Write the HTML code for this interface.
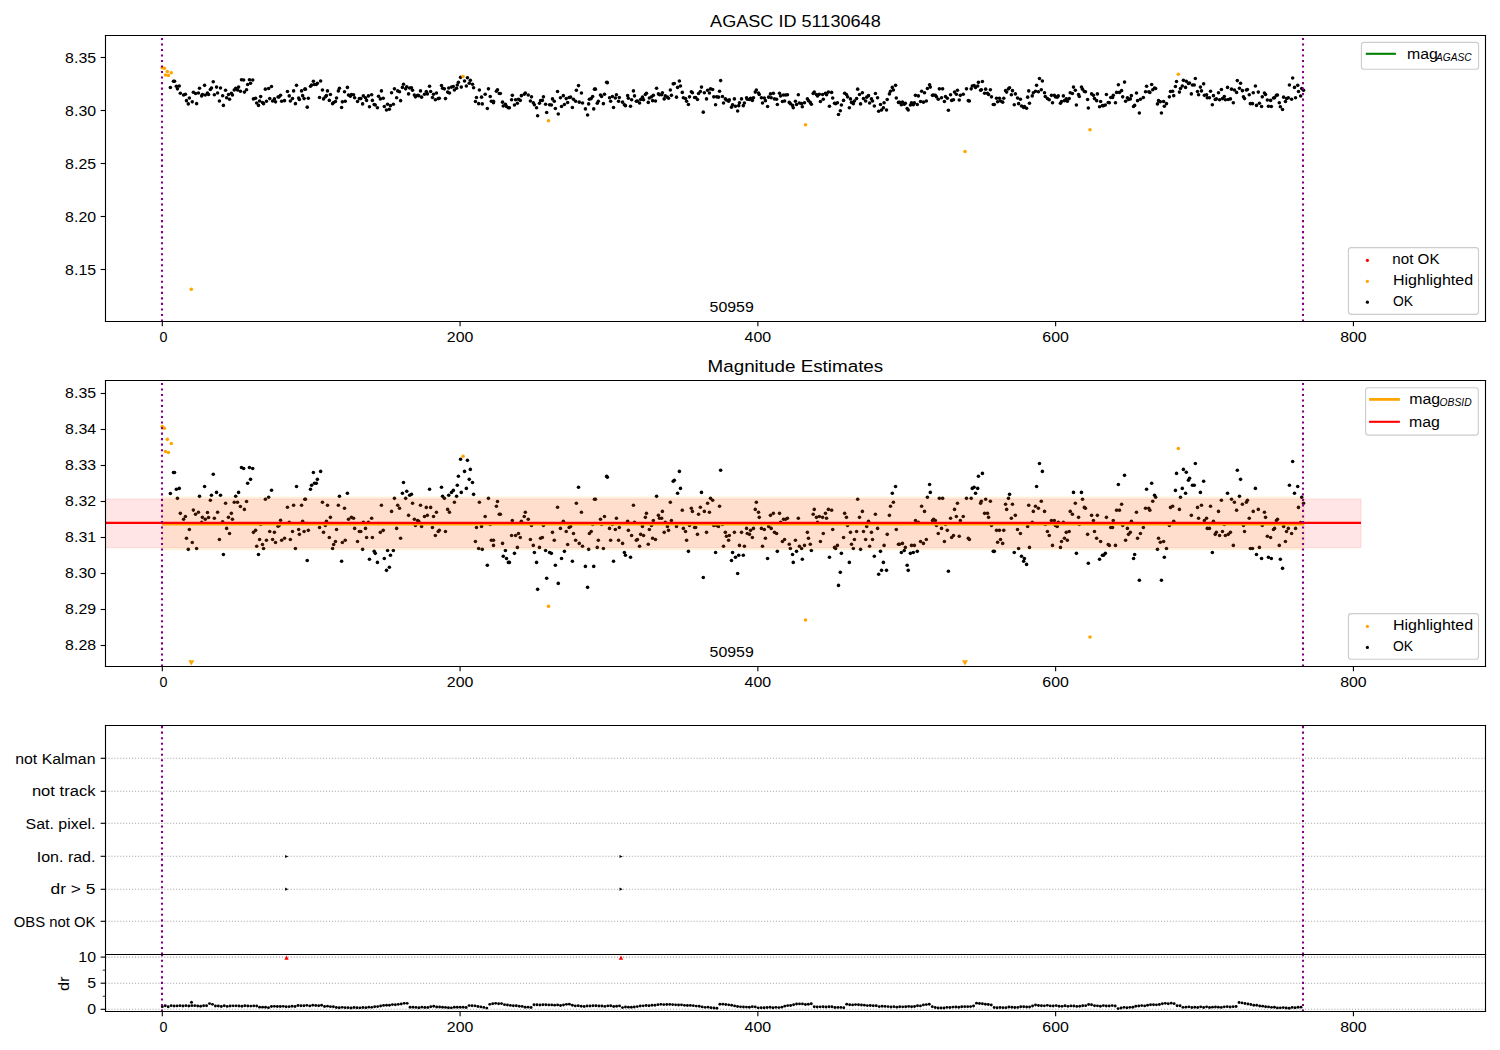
<!DOCTYPE html>
<html><head><meta charset="utf-8"><title>AGASC ID 51130648</title>
<style>html,body{margin:0;padding:0;background:#fff;overflow:hidden}svg{display:block}text{font-family:"Liberation Sans",sans-serif;fill:#000}</style>
</head><body>
<svg width="1500" height="1050" viewBox="0 0 1500 1050">
<defs>
<clipPath id="c1"><rect x="105.5" y="35.5" width="1380.0" height="286.0"/></clipPath>
<clipPath id="c2"><rect x="105.5" y="380.5" width="1380.0" height="286.0"/></clipPath>
<clipPath id="c4"><rect x="105.5" y="954.5" width="1380.0" height="57.0"/></clipPath>
</defs>
<rect x="0" y="0" width="1500" height="1050" fill="#fff"/>
<g clip-path="url(#c1)">
<circle cx="170.38" cy="87.43" r="1.78" fill="#000"/>
<circle cx="173.46" cy="81.25" r="1.78" fill="#000"/>
<circle cx="174.54" cy="81.25" r="1.78" fill="#000"/>
<circle cx="176.35" cy="86.21" r="1.78" fill="#000"/>
<circle cx="179.25" cy="85.94" r="1.78" fill="#000"/>
<circle cx="177.44" cy="88.87" r="1.78" fill="#000"/>
<circle cx="180.33" cy="93.29" r="1.78" fill="#000"/>
<circle cx="183.59" cy="95.05" r="1.78" fill="#000"/>
<circle cx="185.40" cy="94.20" r="1.78" fill="#000"/>
<circle cx="186.48" cy="100.65" r="1.78" fill="#000"/>
<circle cx="188.29" cy="103.90" r="1.78" fill="#000"/>
<circle cx="189.38" cy="98.04" r="1.78" fill="#000"/>
<circle cx="192.27" cy="101.87" r="1.78" fill="#000"/>
<circle cx="193.36" cy="92.33" r="1.78" fill="#000"/>
<circle cx="195.53" cy="93.56" r="1.78" fill="#000"/>
<circle cx="196.62" cy="103.63" r="1.78" fill="#000"/>
<circle cx="198.43" cy="92.97" r="1.78" fill="#000"/>
<circle cx="199.51" cy="88.29" r="1.78" fill="#000"/>
<circle cx="201.68" cy="95.90" r="1.78" fill="#000"/>
<circle cx="202.41" cy="94.47" r="1.78" fill="#000"/>
<circle cx="204.58" cy="85.36" r="1.78" fill="#000"/>
<circle cx="205.30" cy="95.05" r="1.78" fill="#000"/>
<circle cx="207.47" cy="93.03" r="1.78" fill="#000"/>
<circle cx="208.56" cy="94.52" r="1.78" fill="#000"/>
<circle cx="210.37" cy="89.46" r="1.78" fill="#000"/>
<circle cx="211.45" cy="87.97" r="1.78" fill="#000"/>
<circle cx="213.26" cy="81.79" r="1.78" fill="#000"/>
<circle cx="214.35" cy="94.73" r="1.78" fill="#000"/>
<circle cx="216.52" cy="87.11" r="1.78" fill="#000"/>
<circle cx="217.61" cy="92.97" r="1.78" fill="#000"/>
<circle cx="219.41" cy="100.97" r="1.78" fill="#000"/>
<circle cx="220.50" cy="87.97" r="1.78" fill="#000"/>
<circle cx="222.67" cy="95.80" r="1.78" fill="#000"/>
<circle cx="223.40" cy="105.39" r="1.78" fill="#000"/>
<circle cx="225.57" cy="90.31" r="1.78" fill="#000"/>
<circle cx="226.65" cy="97.72" r="1.78" fill="#000"/>
<circle cx="228.46" cy="94.47" r="1.78" fill="#000"/>
<circle cx="229.55" cy="99.21" r="1.78" fill="#000"/>
<circle cx="231.36" cy="93.29" r="1.78" fill="#000"/>
<circle cx="232.44" cy="95.05" r="1.78" fill="#000"/>
<circle cx="234.25" cy="90.04" r="1.78" fill="#000"/>
<circle cx="235.70" cy="88.23" r="1.78" fill="#000"/>
<circle cx="237.51" cy="90.04" r="1.78" fill="#000"/>
<circle cx="238.59" cy="87.11" r="1.78" fill="#000"/>
<circle cx="240.40" cy="91.27" r="1.78" fill="#000"/>
<circle cx="241.49" cy="79.76" r="1.78" fill="#000"/>
<circle cx="243.66" cy="80.08" r="1.78" fill="#000"/>
<circle cx="244.38" cy="92.12" r="1.78" fill="#000"/>
<circle cx="246.56" cy="89.78" r="1.78" fill="#000"/>
<circle cx="247.64" cy="84.45" r="1.78" fill="#000"/>
<circle cx="249.45" cy="79.76" r="1.78" fill="#000"/>
<circle cx="250.54" cy="83.28" r="1.78" fill="#000"/>
<circle cx="252.71" cy="80.08" r="1.78" fill="#000"/>
<circle cx="253.43" cy="98.89" r="1.78" fill="#000"/>
<circle cx="255.60" cy="98.30" r="1.78" fill="#000"/>
<circle cx="256.69" cy="102.99" r="1.78" fill="#000"/>
<circle cx="258.50" cy="105.39" r="1.78" fill="#000"/>
<circle cx="259.58" cy="100.97" r="1.78" fill="#000"/>
<circle cx="260.67" cy="96.60" r="1.78" fill="#000"/>
<circle cx="262.48" cy="102.46" r="1.78" fill="#000"/>
<circle cx="263.56" cy="103.63" r="1.78" fill="#000"/>
<circle cx="265.37" cy="89.14" r="1.78" fill="#000"/>
<circle cx="266.46" cy="101.23" r="1.78" fill="#000"/>
<circle cx="268.63" cy="88.55" r="1.78" fill="#000"/>
<circle cx="269.72" cy="98.62" r="1.78" fill="#000"/>
<circle cx="271.53" cy="86.47" r="1.78" fill="#000"/>
<circle cx="272.61" cy="100.97" r="1.78" fill="#000"/>
<circle cx="274.42" cy="98.89" r="1.78" fill="#000"/>
<circle cx="275.51" cy="101.87" r="1.78" fill="#000"/>
<circle cx="278.04" cy="97.08" r="1.78" fill="#000"/>
<circle cx="279.13" cy="96.86" r="1.78" fill="#000"/>
<circle cx="280.57" cy="95.32" r="1.78" fill="#000"/>
<circle cx="281.66" cy="101.23" r="1.78" fill="#000"/>
<circle cx="284.55" cy="100.65" r="1.78" fill="#000"/>
<circle cx="287.45" cy="91.48" r="1.78" fill="#000"/>
<circle cx="289.26" cy="95.90" r="1.78" fill="#000"/>
<circle cx="290.34" cy="100.97" r="1.78" fill="#000"/>
<circle cx="292.52" cy="98.62" r="1.78" fill="#000"/>
<circle cx="293.60" cy="90.90" r="1.78" fill="#000"/>
<circle cx="295.41" cy="103.63" r="1.78" fill="#000"/>
<circle cx="296.50" cy="85.36" r="1.78" fill="#000"/>
<circle cx="298.67" cy="98.04" r="1.78" fill="#000"/>
<circle cx="299.39" cy="99.47" r="1.78" fill="#000"/>
<circle cx="301.56" cy="90.90" r="1.78" fill="#000"/>
<circle cx="302.65" cy="95.64" r="1.78" fill="#000"/>
<circle cx="304.10" cy="98.62" r="1.78" fill="#000"/>
<circle cx="304.82" cy="89.14" r="1.78" fill="#000"/>
<circle cx="305.43" cy="89.14" r="1.78" fill="#000"/>
<circle cx="307.24" cy="107.15" r="1.78" fill="#000"/>
<circle cx="308.32" cy="98.30" r="1.78" fill="#000"/>
<circle cx="310.49" cy="86.21" r="1.78" fill="#000"/>
<circle cx="311.58" cy="85.04" r="1.78" fill="#000"/>
<circle cx="313.39" cy="81.25" r="1.78" fill="#000"/>
<circle cx="314.48" cy="84.45" r="1.78" fill="#000"/>
<circle cx="316.28" cy="84.45" r="1.78" fill="#000"/>
<circle cx="317.37" cy="83.28" r="1.78" fill="#000"/>
<circle cx="319.54" cy="97.45" r="1.78" fill="#000"/>
<circle cx="320.63" cy="80.93" r="1.78" fill="#000"/>
<circle cx="322.44" cy="90.04" r="1.78" fill="#000"/>
<circle cx="323.52" cy="98.89" r="1.78" fill="#000"/>
<circle cx="325.33" cy="96.86" r="1.78" fill="#000"/>
<circle cx="326.42" cy="95.64" r="1.78" fill="#000"/>
<circle cx="327.50" cy="90.90" r="1.78" fill="#000"/>
<circle cx="329.31" cy="100.38" r="1.78" fill="#000"/>
<circle cx="330.40" cy="94.47" r="1.78" fill="#000"/>
<circle cx="332.57" cy="103.63" r="1.78" fill="#000"/>
<circle cx="333.66" cy="102.46" r="1.78" fill="#000"/>
<circle cx="335.46" cy="101.55" r="1.78" fill="#000"/>
<circle cx="336.55" cy="98.04" r="1.78" fill="#000"/>
<circle cx="338.36" cy="90.90" r="1.78" fill="#000"/>
<circle cx="339.45" cy="88.29" r="1.78" fill="#000"/>
<circle cx="341.62" cy="107.41" r="1.78" fill="#000"/>
<circle cx="342.34" cy="101.87" r="1.78" fill="#000"/>
<circle cx="344.51" cy="91.80" r="1.78" fill="#000"/>
<circle cx="345.24" cy="101.23" r="1.78" fill="#000"/>
<circle cx="347.41" cy="87.38" r="1.78" fill="#000"/>
<circle cx="348.49" cy="95.05" r="1.78" fill="#000"/>
<circle cx="350.30" cy="96.28" r="1.78" fill="#000"/>
<circle cx="351.39" cy="94.47" r="1.78" fill="#000"/>
<circle cx="353.56" cy="94.73" r="1.78" fill="#000"/>
<circle cx="354.64" cy="97.72" r="1.78" fill="#000"/>
<circle cx="357.54" cy="101.55" r="1.78" fill="#000"/>
<circle cx="359.35" cy="98.62" r="1.78" fill="#000"/>
<circle cx="360.80" cy="98.62" r="1.78" fill="#000"/>
<circle cx="362.61" cy="103.90" r="1.78" fill="#000"/>
<circle cx="363.33" cy="95.90" r="1.78" fill="#000"/>
<circle cx="365.50" cy="97.72" r="1.78" fill="#000"/>
<circle cx="366.59" cy="100.38" r="1.78" fill="#000"/>
<circle cx="368.40" cy="95.90" r="1.78" fill="#000"/>
<circle cx="369.48" cy="106.83" r="1.78" fill="#000"/>
<circle cx="371.65" cy="94.73" r="1.78" fill="#000"/>
<circle cx="372.38" cy="100.38" r="1.78" fill="#000"/>
<circle cx="374.19" cy="104.48" r="1.78" fill="#000"/>
<circle cx="375.27" cy="105.07" r="1.78" fill="#000"/>
<circle cx="377.44" cy="107.73" r="1.78" fill="#000"/>
<circle cx="378.53" cy="96.28" r="1.78" fill="#000"/>
<circle cx="380.34" cy="98.89" r="1.78" fill="#000"/>
<circle cx="381.42" cy="90.90" r="1.78" fill="#000"/>
<circle cx="383.23" cy="98.30" r="1.78" fill="#000"/>
<circle cx="384.32" cy="106.56" r="1.78" fill="#000"/>
<circle cx="386.49" cy="110.08" r="1.78" fill="#000"/>
<circle cx="387.58" cy="104.22" r="1.78" fill="#000"/>
<circle cx="389.38" cy="109.17" r="1.78" fill="#000"/>
<circle cx="390.47" cy="105.65" r="1.78" fill="#000"/>
<circle cx="391.56" cy="92.71" r="1.78" fill="#000"/>
<circle cx="393.37" cy="104.22" r="1.78" fill="#000"/>
<circle cx="394.45" cy="88.87" r="1.78" fill="#000"/>
<circle cx="396.62" cy="97.72" r="1.78" fill="#000"/>
<circle cx="397.71" cy="90.90" r="1.78" fill="#000"/>
<circle cx="399.52" cy="91.80" r="1.78" fill="#000"/>
<circle cx="400.60" cy="100.65" r="1.78" fill="#000"/>
<circle cx="402.41" cy="87.38" r="1.78" fill="#000"/>
<circle cx="403.50" cy="84.18" r="1.78" fill="#000"/>
<circle cx="405.67" cy="88.87" r="1.78" fill="#000"/>
<circle cx="406.76" cy="86.79" r="1.78" fill="#000"/>
<circle cx="408.56" cy="93.88" r="1.78" fill="#000"/>
<circle cx="409.65" cy="87.97" r="1.78" fill="#000"/>
<circle cx="411.46" cy="87.70" r="1.78" fill="#000"/>
<circle cx="412.55" cy="90.31" r="1.78" fill="#000"/>
<circle cx="414.35" cy="95.05" r="1.78" fill="#000"/>
<circle cx="415.44" cy="96.86" r="1.78" fill="#000"/>
<circle cx="417.61" cy="95.37" r="1.78" fill="#000"/>
<circle cx="418.70" cy="95.64" r="1.78" fill="#000"/>
<circle cx="420.51" cy="90.90" r="1.78" fill="#000"/>
<circle cx="421.59" cy="97.13" r="1.78" fill="#000"/>
<circle cx="424.49" cy="94.20" r="1.78" fill="#000"/>
<circle cx="426.30" cy="91.54" r="1.78" fill="#000"/>
<circle cx="427.38" cy="93.88" r="1.78" fill="#000"/>
<circle cx="429.55" cy="86.21" r="1.78" fill="#000"/>
<circle cx="430.64" cy="91.54" r="1.78" fill="#000"/>
<circle cx="432.45" cy="97.45" r="1.78" fill="#000"/>
<circle cx="433.53" cy="94.20" r="1.78" fill="#000"/>
<circle cx="435.34" cy="99.79" r="1.78" fill="#000"/>
<circle cx="436.43" cy="92.97" r="1.78" fill="#000"/>
<circle cx="438.24" cy="98.62" r="1.78" fill="#000"/>
<circle cx="439.32" cy="98.30" r="1.78" fill="#000"/>
<circle cx="441.50" cy="85.62" r="1.78" fill="#000"/>
<circle cx="442.58" cy="88.29" r="1.78" fill="#000"/>
<circle cx="444.39" cy="88.87" r="1.78" fill="#000"/>
<circle cx="445.48" cy="98.62" r="1.78" fill="#000"/>
<circle cx="447.65" cy="92.12" r="1.78" fill="#000"/>
<circle cx="448.73" cy="87.97" r="1.78" fill="#000"/>
<circle cx="449.46" cy="92.97" r="1.78" fill="#000"/>
<circle cx="451.51" cy="87.11" r="1.78" fill="#000"/>
<circle cx="453.32" cy="86.53" r="1.78" fill="#000"/>
<circle cx="454.41" cy="90.04" r="1.78" fill="#000"/>
<circle cx="456.58" cy="88.29" r="1.78" fill="#000"/>
<circle cx="457.30" cy="85.04" r="1.78" fill="#000"/>
<circle cx="458.39" cy="82.37" r="1.78" fill="#000"/>
<circle cx="460.56" cy="77.36" r="1.78" fill="#000"/>
<circle cx="461.28" cy="87.11" r="1.78" fill="#000"/>
<circle cx="464.54" cy="80.93" r="1.78" fill="#000"/>
<circle cx="466.35" cy="85.94" r="1.78" fill="#000"/>
<circle cx="467.44" cy="77.68" r="1.78" fill="#000"/>
<circle cx="469.25" cy="83.28" r="1.78" fill="#000"/>
<circle cx="470.33" cy="80.35" r="1.78" fill="#000"/>
<circle cx="472.50" cy="84.18" r="1.78" fill="#000"/>
<circle cx="473.59" cy="87.70" r="1.78" fill="#000"/>
<circle cx="475.40" cy="101.55" r="1.78" fill="#000"/>
<circle cx="476.48" cy="97.45" r="1.78" fill="#000"/>
<circle cx="478.66" cy="103.63" r="1.78" fill="#000"/>
<circle cx="479.38" cy="90.04" r="1.78" fill="#000"/>
<circle cx="481.55" cy="97.13" r="1.78" fill="#000"/>
<circle cx="482.27" cy="103.90" r="1.78" fill="#000"/>
<circle cx="485.17" cy="94.20" r="1.78" fill="#000"/>
<circle cx="487.34" cy="108.58" r="1.78" fill="#000"/>
<circle cx="488.43" cy="88.87" r="1.78" fill="#000"/>
<circle cx="490.24" cy="96.54" r="1.78" fill="#000"/>
<circle cx="491.32" cy="101.23" r="1.78" fill="#000"/>
<circle cx="493.49" cy="101.23" r="1.78" fill="#000"/>
<circle cx="493.49" cy="102.72" r="1.78" fill="#000"/>
<circle cx="496.39" cy="91.22" r="1.78" fill="#000"/>
<circle cx="497.47" cy="89.78" r="1.78" fill="#000"/>
<circle cx="499.28" cy="93.56" r="1.78" fill="#000"/>
<circle cx="500.37" cy="93.56" r="1.78" fill="#000"/>
<circle cx="502.54" cy="102.14" r="1.78" fill="#000"/>
<circle cx="503.26" cy="105.92" r="1.78" fill="#000"/>
<circle cx="505.43" cy="104.22" r="1.78" fill="#000"/>
<circle cx="506.52" cy="106.56" r="1.78" fill="#000"/>
<circle cx="508.33" cy="107.73" r="1.78" fill="#000"/>
<circle cx="509.41" cy="107.73" r="1.78" fill="#000"/>
<circle cx="511.59" cy="99.79" r="1.78" fill="#000"/>
<circle cx="512.31" cy="95.37" r="1.78" fill="#000"/>
<circle cx="514.48" cy="105.07" r="1.78" fill="#000"/>
<circle cx="515.57" cy="99.79" r="1.78" fill="#000"/>
<circle cx="517.38" cy="103.31" r="1.78" fill="#000"/>
<circle cx="518.46" cy="99.21" r="1.78" fill="#000"/>
<circle cx="520.27" cy="100.38" r="1.78" fill="#000"/>
<circle cx="521.36" cy="95.64" r="1.78" fill="#000"/>
<circle cx="524.25" cy="94.20" r="1.78" fill="#000"/>
<circle cx="525.34" cy="92.97" r="1.78" fill="#000"/>
<circle cx="528.23" cy="95.05" r="1.78" fill="#000"/>
<circle cx="530.40" cy="100.97" r="1.78" fill="#000"/>
<circle cx="531.49" cy="96.86" r="1.78" fill="#000"/>
<circle cx="533.30" cy="102.72" r="1.78" fill="#000"/>
<circle cx="534.38" cy="104.80" r="1.78" fill="#000"/>
<circle cx="536.56" cy="107.73" r="1.78" fill="#000"/>
<circle cx="537.64" cy="115.67" r="1.78" fill="#000"/>
<circle cx="539.45" cy="103.31" r="1.78" fill="#000"/>
<circle cx="540.54" cy="100.65" r="1.78" fill="#000"/>
<circle cx="542.35" cy="100.38" r="1.78" fill="#000"/>
<circle cx="543.43" cy="96.86" r="1.78" fill="#000"/>
<circle cx="545.60" cy="104.22" r="1.78" fill="#000"/>
<circle cx="546.69" cy="112.42" r="1.78" fill="#000"/>
<circle cx="549.58" cy="104.80" r="1.78" fill="#000"/>
<circle cx="551.39" cy="105.07" r="1.78" fill="#000"/>
<circle cx="552.48" cy="98.89" r="1.78" fill="#000"/>
<circle cx="554.29" cy="101.23" r="1.78" fill="#000"/>
<circle cx="555.37" cy="108.58" r="1.78" fill="#000"/>
<circle cx="557.55" cy="91.48" r="1.78" fill="#000"/>
<circle cx="558.27" cy="113.91" r="1.78" fill="#000"/>
<circle cx="560.44" cy="97.72" r="1.78" fill="#000"/>
<circle cx="561.53" cy="106.56" r="1.78" fill="#000"/>
<circle cx="563.34" cy="95.64" r="1.78" fill="#000"/>
<circle cx="564.42" cy="104.48" r="1.78" fill="#000"/>
<circle cx="566.23" cy="98.62" r="1.78" fill="#000"/>
<circle cx="567.68" cy="102.46" r="1.78" fill="#000"/>
<circle cx="569.13" cy="97.45" r="1.78" fill="#000"/>
<circle cx="570.57" cy="97.13" r="1.78" fill="#000"/>
<circle cx="572.38" cy="107.41" r="1.78" fill="#000"/>
<circle cx="573.47" cy="99.21" r="1.78" fill="#000"/>
<circle cx="575.64" cy="101.23" r="1.78" fill="#000"/>
<circle cx="576.36" cy="90.31" r="1.78" fill="#000"/>
<circle cx="578.53" cy="85.62" r="1.78" fill="#000"/>
<circle cx="579.26" cy="102.14" r="1.78" fill="#000"/>
<circle cx="581.43" cy="92.97" r="1.78" fill="#000"/>
<circle cx="582.52" cy="102.99" r="1.78" fill="#000"/>
<circle cx="585.41" cy="108.90" r="1.78" fill="#000"/>
<circle cx="587.58" cy="115.08" r="1.78" fill="#000"/>
<circle cx="588.67" cy="103.90" r="1.78" fill="#000"/>
<circle cx="589.39" cy="99.21" r="1.78" fill="#000"/>
<circle cx="591.20" cy="98.62" r="1.78" fill="#000"/>
<circle cx="592.65" cy="96.54" r="1.78" fill="#000"/>
<circle cx="593.73" cy="108.90" r="1.78" fill="#000"/>
<circle cx="594.46" cy="89.14" r="1.78" fill="#000"/>
<circle cx="595.43" cy="89.14" r="1.78" fill="#000"/>
<circle cx="597.24" cy="103.31" r="1.78" fill="#000"/>
<circle cx="598.32" cy="101.23" r="1.78" fill="#000"/>
<circle cx="600.49" cy="95.05" r="1.78" fill="#000"/>
<circle cx="601.58" cy="96.54" r="1.78" fill="#000"/>
<circle cx="603.39" cy="103.63" r="1.78" fill="#000"/>
<circle cx="604.48" cy="94.20" r="1.78" fill="#000"/>
<circle cx="606.65" cy="82.37" r="1.78" fill="#000"/>
<circle cx="607.37" cy="82.64" r="1.78" fill="#000"/>
<circle cx="609.54" cy="97.72" r="1.78" fill="#000"/>
<circle cx="610.63" cy="101.23" r="1.78" fill="#000"/>
<circle cx="612.44" cy="96.54" r="1.78" fill="#000"/>
<circle cx="613.52" cy="107.41" r="1.78" fill="#000"/>
<circle cx="615.33" cy="98.04" r="1.78" fill="#000"/>
<circle cx="616.42" cy="94.73" r="1.78" fill="#000"/>
<circle cx="618.59" cy="101.23" r="1.78" fill="#000"/>
<circle cx="619.31" cy="97.45" r="1.78" fill="#000"/>
<circle cx="622.57" cy="102.14" r="1.78" fill="#000"/>
<circle cx="624.38" cy="104.80" r="1.78" fill="#000"/>
<circle cx="625.46" cy="105.65" r="1.78" fill="#000"/>
<circle cx="627.64" cy="95.64" r="1.78" fill="#000"/>
<circle cx="628.36" cy="98.30" r="1.78" fill="#000"/>
<circle cx="630.53" cy="106.24" r="1.78" fill="#000"/>
<circle cx="631.62" cy="99.79" r="1.78" fill="#000"/>
<circle cx="633.43" cy="90.90" r="1.78" fill="#000"/>
<circle cx="634.51" cy="95.90" r="1.78" fill="#000"/>
<circle cx="636.32" cy="101.23" r="1.78" fill="#000"/>
<circle cx="637.41" cy="100.97" r="1.78" fill="#000"/>
<circle cx="639.58" cy="102.99" r="1.78" fill="#000"/>
<circle cx="640.66" cy="99.47" r="1.78" fill="#000"/>
<circle cx="642.47" cy="97.13" r="1.78" fill="#000"/>
<circle cx="643.56" cy="99.79" r="1.78" fill="#000"/>
<circle cx="645.37" cy="94.47" r="1.78" fill="#000"/>
<circle cx="646.45" cy="93.29" r="1.78" fill="#000"/>
<circle cx="648.26" cy="102.40" r="1.78" fill="#000"/>
<circle cx="649.35" cy="98.04" r="1.78" fill="#000"/>
<circle cx="651.52" cy="96.86" r="1.78" fill="#000"/>
<circle cx="652.61" cy="100.65" r="1.78" fill="#000"/>
<circle cx="653.33" cy="95.37" r="1.78" fill="#000"/>
<circle cx="655.50" cy="100.97" r="1.78" fill="#000"/>
<circle cx="656.59" cy="88.29" r="1.78" fill="#000"/>
<circle cx="658.40" cy="93.88" r="1.78" fill="#000"/>
<circle cx="659.48" cy="94.73" r="1.78" fill="#000"/>
<circle cx="661.65" cy="94.73" r="1.78" fill="#000"/>
<circle cx="662.38" cy="92.71" r="1.78" fill="#000"/>
<circle cx="664.19" cy="98.89" r="1.78" fill="#000"/>
<circle cx="665.27" cy="95.90" r="1.78" fill="#000"/>
<circle cx="667.44" cy="97.13" r="1.78" fill="#000"/>
<circle cx="668.53" cy="98.30" r="1.78" fill="#000"/>
<circle cx="670.34" cy="90.04" r="1.78" fill="#000"/>
<circle cx="671.42" cy="95.37" r="1.78" fill="#000"/>
<circle cx="673.23" cy="83.86" r="1.78" fill="#000"/>
<circle cx="674.32" cy="83.54" r="1.78" fill="#000"/>
<circle cx="676.49" cy="97.13" r="1.78" fill="#000"/>
<circle cx="677.58" cy="87.38" r="1.78" fill="#000"/>
<circle cx="679.38" cy="80.93" r="1.78" fill="#000"/>
<circle cx="680.47" cy="85.94" r="1.78" fill="#000"/>
<circle cx="682.28" cy="92.39" r="1.78" fill="#000"/>
<circle cx="683.37" cy="97.72" r="1.78" fill="#000"/>
<circle cx="685.54" cy="98.62" r="1.78" fill="#000"/>
<circle cx="686.62" cy="101.23" r="1.78" fill="#000"/>
<circle cx="688.43" cy="104.48" r="1.78" fill="#000"/>
<circle cx="689.52" cy="96.86" r="1.78" fill="#000"/>
<circle cx="691.33" cy="91.80" r="1.78" fill="#000"/>
<circle cx="692.41" cy="92.71" r="1.78" fill="#000"/>
<circle cx="694.58" cy="97.45" r="1.78" fill="#000"/>
<circle cx="695.67" cy="97.45" r="1.78" fill="#000"/>
<circle cx="697.48" cy="99.47" r="1.78" fill="#000"/>
<circle cx="698.56" cy="93.56" r="1.78" fill="#000"/>
<circle cx="700.37" cy="91.48" r="1.78" fill="#000"/>
<circle cx="701.46" cy="87.11" r="1.78" fill="#000"/>
<circle cx="703.27" cy="112.15" r="1.78" fill="#000"/>
<circle cx="704.35" cy="92.71" r="1.78" fill="#000"/>
<circle cx="706.53" cy="98.89" r="1.78" fill="#000"/>
<circle cx="707.61" cy="90.31" r="1.78" fill="#000"/>
<circle cx="709.42" cy="92.97" r="1.78" fill="#000"/>
<circle cx="710.51" cy="88.87" r="1.78" fill="#000"/>
<circle cx="712.68" cy="89.46" r="1.78" fill="#000"/>
<circle cx="713.76" cy="96.86" r="1.78" fill="#000"/>
<circle cx="715.57" cy="104.80" r="1.78" fill="#000"/>
<circle cx="716.66" cy="96.86" r="1.78" fill="#000"/>
<circle cx="718.47" cy="97.13" r="1.78" fill="#000"/>
<circle cx="719.55" cy="91.22" r="1.78" fill="#000"/>
<circle cx="720.64" cy="80.61" r="1.78" fill="#000"/>
<circle cx="722.45" cy="96.54" r="1.78" fill="#000"/>
<circle cx="723.53" cy="102.99" r="1.78" fill="#000"/>
<circle cx="725.34" cy="98.89" r="1.78" fill="#000"/>
<circle cx="726.43" cy="100.06" r="1.78" fill="#000"/>
<circle cx="728.60" cy="101.23" r="1.78" fill="#000"/>
<circle cx="729.32" cy="99.79" r="1.78" fill="#000"/>
<circle cx="731.50" cy="107.15" r="1.78" fill="#000"/>
<circle cx="732.58" cy="104.80" r="1.78" fill="#000"/>
<circle cx="734.39" cy="98.89" r="1.78" fill="#000"/>
<circle cx="735.48" cy="106.24" r="1.78" fill="#000"/>
<circle cx="737.65" cy="110.98" r="1.78" fill="#000"/>
<circle cx="738.73" cy="105.65" r="1.78" fill="#000"/>
<circle cx="739.46" cy="102.72" r="1.78" fill="#000"/>
<circle cx="741.51" cy="98.89" r="1.78" fill="#000"/>
<circle cx="743.32" cy="105.65" r="1.78" fill="#000"/>
<circle cx="744.41" cy="102.99" r="1.78" fill="#000"/>
<circle cx="746.58" cy="97.72" r="1.78" fill="#000"/>
<circle cx="747.30" cy="99.21" r="1.78" fill="#000"/>
<circle cx="749.48" cy="99.47" r="1.78" fill="#000"/>
<circle cx="750.56" cy="98.30" r="1.78" fill="#000"/>
<circle cx="752.37" cy="100.38" r="1.78" fill="#000"/>
<circle cx="753.46" cy="97.72" r="1.78" fill="#000"/>
<circle cx="755.27" cy="92.12" r="1.78" fill="#000"/>
<circle cx="756.35" cy="90.04" r="1.78" fill="#000"/>
<circle cx="758.52" cy="92.97" r="1.78" fill="#000"/>
<circle cx="759.25" cy="94.47" r="1.78" fill="#000"/>
<circle cx="761.42" cy="97.72" r="1.78" fill="#000"/>
<circle cx="762.50" cy="102.99" r="1.78" fill="#000"/>
<circle cx="764.31" cy="98.04" r="1.78" fill="#000"/>
<circle cx="765.40" cy="100.65" r="1.78" fill="#000"/>
<circle cx="767.57" cy="106.56" r="1.78" fill="#000"/>
<circle cx="768.66" cy="97.13" r="1.78" fill="#000"/>
<circle cx="770.46" cy="93.88" r="1.78" fill="#000"/>
<circle cx="771.19" cy="97.72" r="1.78" fill="#000"/>
<circle cx="773.36" cy="93.29" r="1.78" fill="#000"/>
<circle cx="774.45" cy="98.89" r="1.78" fill="#000"/>
<circle cx="776.62" cy="99.21" r="1.78" fill="#000"/>
<circle cx="777.34" cy="104.48" r="1.78" fill="#000"/>
<circle cx="779.51" cy="93.29" r="1.78" fill="#000"/>
<circle cx="780.60" cy="95.90" r="1.78" fill="#000"/>
<circle cx="782.41" cy="101.55" r="1.78" fill="#000"/>
<circle cx="783.49" cy="95.05" r="1.78" fill="#000"/>
<circle cx="784.58" cy="100.97" r="1.78" fill="#000"/>
<circle cx="785.66" cy="95.05" r="1.78" fill="#000"/>
<circle cx="787.47" cy="94.73" r="1.78" fill="#000"/>
<circle cx="789.28" cy="102.40" r="1.78" fill="#000"/>
<circle cx="790.37" cy="103.63" r="1.78" fill="#000"/>
<circle cx="792.54" cy="105.39" r="1.78" fill="#000"/>
<circle cx="793.26" cy="107.73" r="1.78" fill="#000"/>
<circle cx="795.43" cy="101.23" r="1.78" fill="#000"/>
<circle cx="796.52" cy="104.48" r="1.78" fill="#000"/>
<circle cx="798.33" cy="94.73" r="1.78" fill="#000"/>
<circle cx="799.41" cy="102.99" r="1.78" fill="#000"/>
<circle cx="801.59" cy="103.63" r="1.78" fill="#000"/>
<circle cx="802.31" cy="106.83" r="1.78" fill="#000"/>
<circle cx="804.48" cy="102.72" r="1.78" fill="#000"/>
<circle cx="807.38" cy="98.89" r="1.78" fill="#000"/>
<circle cx="808.46" cy="100.65" r="1.78" fill="#000"/>
<circle cx="810.27" cy="102.40" r="1.78" fill="#000"/>
<circle cx="811.36" cy="104.22" r="1.78" fill="#000"/>
<circle cx="813.17" cy="93.56" r="1.78" fill="#000"/>
<circle cx="814.25" cy="92.12" r="1.78" fill="#000"/>
<circle cx="816.42" cy="94.47" r="1.78" fill="#000"/>
<circle cx="817.51" cy="95.90" r="1.78" fill="#000"/>
<circle cx="819.32" cy="94.20" r="1.78" fill="#000"/>
<circle cx="820.40" cy="101.55" r="1.78" fill="#000"/>
<circle cx="822.58" cy="94.47" r="1.78" fill="#000"/>
<circle cx="823.30" cy="99.21" r="1.78" fill="#000"/>
<circle cx="825.47" cy="93.29" r="1.78" fill="#000"/>
<circle cx="826.56" cy="94.73" r="1.78" fill="#000"/>
<circle cx="828.37" cy="92.12" r="1.78" fill="#000"/>
<circle cx="829.45" cy="106.24" r="1.78" fill="#000"/>
<circle cx="831.62" cy="92.39" r="1.78" fill="#000"/>
<circle cx="832.71" cy="98.04" r="1.78" fill="#000"/>
<circle cx="834.52" cy="103.31" r="1.78" fill="#000"/>
<circle cx="835.60" cy="103.63" r="1.78" fill="#000"/>
<circle cx="837.41" cy="102.72" r="1.78" fill="#000"/>
<circle cx="838.50" cy="114.50" r="1.78" fill="#000"/>
<circle cx="840.31" cy="110.66" r="1.78" fill="#000"/>
<circle cx="841.39" cy="105.07" r="1.78" fill="#000"/>
<circle cx="843.56" cy="100.38" r="1.78" fill="#000"/>
<circle cx="844.65" cy="93.29" r="1.78" fill="#000"/>
<circle cx="846.46" cy="94.47" r="1.78" fill="#000"/>
<circle cx="847.55" cy="96.86" r="1.78" fill="#000"/>
<circle cx="849.35" cy="107.73" r="1.78" fill="#000"/>
<circle cx="850.44" cy="98.89" r="1.78" fill="#000"/>
<circle cx="851.53" cy="102.40" r="1.78" fill="#000"/>
<circle cx="853.34" cy="103.63" r="1.78" fill="#000"/>
<circle cx="854.42" cy="100.97" r="1.78" fill="#000"/>
<circle cx="856.59" cy="98.62" r="1.78" fill="#000"/>
<circle cx="857.68" cy="89.14" r="1.78" fill="#000"/>
<circle cx="859.49" cy="94.47" r="1.78" fill="#000"/>
<circle cx="860.57" cy="103.90" r="1.78" fill="#000"/>
<circle cx="862.38" cy="92.71" r="1.78" fill="#000"/>
<circle cx="863.47" cy="98.62" r="1.78" fill="#000"/>
<circle cx="865.64" cy="100.97" r="1.78" fill="#000"/>
<circle cx="866.72" cy="97.13" r="1.78" fill="#000"/>
<circle cx="868.53" cy="95.64" r="1.78" fill="#000"/>
<circle cx="869.62" cy="102.99" r="1.78" fill="#000"/>
<circle cx="871.43" cy="98.89" r="1.78" fill="#000"/>
<circle cx="872.52" cy="100.97" r="1.78" fill="#000"/>
<circle cx="874.32" cy="105.92" r="1.78" fill="#000"/>
<circle cx="875.41" cy="93.56" r="1.78" fill="#000"/>
<circle cx="877.58" cy="97.72" r="1.78" fill="#000"/>
<circle cx="878.67" cy="111.25" r="1.78" fill="#000"/>
<circle cx="880.48" cy="104.48" r="1.78" fill="#000"/>
<circle cx="881.56" cy="110.08" r="1.78" fill="#000"/>
<circle cx="883.37" cy="107.73" r="1.78" fill="#000"/>
<circle cx="884.10" cy="102.72" r="1.78" fill="#000"/>
<circle cx="886.51" cy="110.08" r="1.78" fill="#000"/>
<circle cx="887.24" cy="99.47" r="1.78" fill="#000"/>
<circle cx="889.41" cy="93.88" r="1.78" fill="#000"/>
<circle cx="890.49" cy="91.22" r="1.78" fill="#000"/>
<circle cx="892.30" cy="87.38" r="1.78" fill="#000"/>
<circle cx="893.39" cy="90.04" r="1.78" fill="#000"/>
<circle cx="895.56" cy="85.36" r="1.78" fill="#000"/>
<circle cx="896.28" cy="98.04" r="1.78" fill="#000"/>
<circle cx="898.46" cy="102.40" r="1.78" fill="#000"/>
<circle cx="899.54" cy="102.40" r="1.78" fill="#000"/>
<circle cx="901.35" cy="104.80" r="1.78" fill="#000"/>
<circle cx="902.44" cy="102.14" r="1.78" fill="#000"/>
<circle cx="904.25" cy="104.22" r="1.78" fill="#000"/>
<circle cx="905.33" cy="103.31" r="1.78" fill="#000"/>
<circle cx="907.14" cy="108.58" r="1.78" fill="#000"/>
<circle cx="908.23" cy="110.08" r="1.78" fill="#000"/>
<circle cx="910.40" cy="105.07" r="1.78" fill="#000"/>
<circle cx="911.48" cy="102.72" r="1.78" fill="#000"/>
<circle cx="913.29" cy="104.80" r="1.78" fill="#000"/>
<circle cx="914.38" cy="102.72" r="1.78" fill="#000"/>
<circle cx="915.46" cy="95.37" r="1.78" fill="#000"/>
<circle cx="917.27" cy="104.48" r="1.78" fill="#000"/>
<circle cx="918.36" cy="95.90" r="1.78" fill="#000"/>
<circle cx="920.53" cy="101.55" r="1.78" fill="#000"/>
<circle cx="921.62" cy="91.22" r="1.78" fill="#000"/>
<circle cx="923.43" cy="102.14" r="1.78" fill="#000"/>
<circle cx="924.51" cy="92.71" r="1.78" fill="#000"/>
<circle cx="926.32" cy="100.97" r="1.78" fill="#000"/>
<circle cx="927.41" cy="88.55" r="1.78" fill="#000"/>
<circle cx="929.58" cy="84.77" r="1.78" fill="#000"/>
<circle cx="930.30" cy="87.11" r="1.78" fill="#000"/>
<circle cx="932.47" cy="95.37" r="1.78" fill="#000"/>
<circle cx="933.56" cy="95.05" r="1.78" fill="#000"/>
<circle cx="935.37" cy="95.37" r="1.78" fill="#000"/>
<circle cx="936.45" cy="96.86" r="1.78" fill="#000"/>
<circle cx="938.26" cy="99.21" r="1.78" fill="#000"/>
<circle cx="939.35" cy="88.87" r="1.78" fill="#000"/>
<circle cx="941.52" cy="97.72" r="1.78" fill="#000"/>
<circle cx="942.61" cy="88.87" r="1.78" fill="#000"/>
<circle cx="944.41" cy="101.55" r="1.78" fill="#000"/>
<circle cx="945.50" cy="96.54" r="1.78" fill="#000"/>
<circle cx="947.31" cy="98.30" r="1.78" fill="#000"/>
<circle cx="948.40" cy="110.34" r="1.78" fill="#000"/>
<circle cx="950.57" cy="94.73" r="1.78" fill="#000"/>
<circle cx="951.65" cy="100.38" r="1.78" fill="#000"/>
<circle cx="953.46" cy="99.79" r="1.78" fill="#000"/>
<circle cx="954.55" cy="92.12" r="1.78" fill="#000"/>
<circle cx="956.36" cy="94.20" r="1.78" fill="#000"/>
<circle cx="957.44" cy="90.31" r="1.78" fill="#000"/>
<circle cx="959.25" cy="100.06" r="1.78" fill="#000"/>
<circle cx="960.34" cy="95.37" r="1.78" fill="#000"/>
<circle cx="963.23" cy="94.20" r="1.78" fill="#000"/>
<circle cx="966.49" cy="88.87" r="1.78" fill="#000"/>
<circle cx="968.30" cy="100.65" r="1.78" fill="#000"/>
<circle cx="969.38" cy="100.97" r="1.78" fill="#000"/>
<circle cx="971.19" cy="88.87" r="1.78" fill="#000"/>
<circle cx="972.28" cy="85.94" r="1.78" fill="#000"/>
<circle cx="974.09" cy="85.62" r="1.78" fill="#000"/>
<circle cx="975.54" cy="87.38" r="1.78" fill="#000"/>
<circle cx="977.71" cy="85.94" r="1.78" fill="#000"/>
<circle cx="978.43" cy="82.37" r="1.78" fill="#000"/>
<circle cx="980.60" cy="90.31" r="1.78" fill="#000"/>
<circle cx="981.33" cy="89.72" r="1.78" fill="#000"/>
<circle cx="982.41" cy="81.52" r="1.78" fill="#000"/>
<circle cx="984.58" cy="93.29" r="1.78" fill="#000"/>
<circle cx="985.67" cy="89.14" r="1.78" fill="#000"/>
<circle cx="987.48" cy="93.29" r="1.78" fill="#000"/>
<circle cx="988.56" cy="94.47" r="1.78" fill="#000"/>
<circle cx="990.37" cy="89.72" r="1.78" fill="#000"/>
<circle cx="991.46" cy="96.86" r="1.78" fill="#000"/>
<circle cx="993.27" cy="104.48" r="1.78" fill="#000"/>
<circle cx="994.35" cy="104.48" r="1.78" fill="#000"/>
<circle cx="996.53" cy="98.30" r="1.78" fill="#000"/>
<circle cx="997.61" cy="101.82" r="1.78" fill="#000"/>
<circle cx="999.42" cy="98.30" r="1.78" fill="#000"/>
<circle cx="1000.51" cy="100.97" r="1.78" fill="#000"/>
<circle cx="1002.68" cy="102.14" r="1.78" fill="#000"/>
<circle cx="1003.76" cy="98.30" r="1.78" fill="#000"/>
<circle cx="1005.57" cy="90.63" r="1.78" fill="#000"/>
<circle cx="1006.66" cy="92.12" r="1.78" fill="#000"/>
<circle cx="1008.47" cy="88.87" r="1.78" fill="#000"/>
<circle cx="1009.55" cy="87.70" r="1.78" fill="#000"/>
<circle cx="1011.36" cy="94.73" r="1.78" fill="#000"/>
<circle cx="1012.45" cy="90.63" r="1.78" fill="#000"/>
<circle cx="1014.26" cy="104.80" r="1.78" fill="#000"/>
<circle cx="1015.34" cy="93.88" r="1.78" fill="#000"/>
<circle cx="1017.52" cy="98.04" r="1.78" fill="#000"/>
<circle cx="1018.60" cy="103.63" r="1.78" fill="#000"/>
<circle cx="1020.41" cy="99.21" r="1.78" fill="#000"/>
<circle cx="1021.50" cy="105.92" r="1.78" fill="#000"/>
<circle cx="1023.67" cy="107.41" r="1.78" fill="#000"/>
<circle cx="1024.39" cy="106.56" r="1.78" fill="#000"/>
<circle cx="1026.56" cy="108.32" r="1.78" fill="#000"/>
<circle cx="1027.65" cy="97.13" r="1.78" fill="#000"/>
<circle cx="1028.73" cy="90.90" r="1.78" fill="#000"/>
<circle cx="1029.46" cy="103.31" r="1.78" fill="#000"/>
<circle cx="1032.24" cy="95.90" r="1.78" fill="#000"/>
<circle cx="1033.32" cy="92.71" r="1.78" fill="#000"/>
<circle cx="1035.49" cy="91.22" r="1.78" fill="#000"/>
<circle cx="1036.58" cy="85.36" r="1.78" fill="#000"/>
<circle cx="1038.39" cy="91.80" r="1.78" fill="#000"/>
<circle cx="1039.48" cy="78.59" r="1.78" fill="#000"/>
<circle cx="1041.28" cy="89.72" r="1.78" fill="#000"/>
<circle cx="1042.37" cy="80.93" r="1.78" fill="#000"/>
<circle cx="1044.54" cy="92.71" r="1.78" fill="#000"/>
<circle cx="1045.27" cy="96.54" r="1.78" fill="#000"/>
<circle cx="1047.44" cy="98.62" r="1.78" fill="#000"/>
<circle cx="1049.25" cy="99.79" r="1.78" fill="#000"/>
<circle cx="1051.42" cy="95.37" r="1.78" fill="#000"/>
<circle cx="1052.50" cy="102.72" r="1.78" fill="#000"/>
<circle cx="1054.31" cy="95.37" r="1.78" fill="#000"/>
<circle cx="1055.40" cy="96.86" r="1.78" fill="#000"/>
<circle cx="1057.21" cy="97.13" r="1.78" fill="#000"/>
<circle cx="1058.29" cy="95.90" r="1.78" fill="#000"/>
<circle cx="1060.46" cy="103.31" r="1.78" fill="#000"/>
<circle cx="1061.55" cy="101.55" r="1.78" fill="#000"/>
<circle cx="1063.36" cy="95.90" r="1.78" fill="#000"/>
<circle cx="1064.45" cy="100.65" r="1.78" fill="#000"/>
<circle cx="1066.25" cy="98.89" r="1.78" fill="#000"/>
<circle cx="1067.34" cy="101.23" r="1.78" fill="#000"/>
<circle cx="1069.15" cy="98.62" r="1.78" fill="#000"/>
<circle cx="1070.24" cy="92.71" r="1.78" fill="#000"/>
<circle cx="1072.41" cy="93.56" r="1.78" fill="#000"/>
<circle cx="1073.49" cy="87.11" r="1.78" fill="#000"/>
<circle cx="1075.30" cy="90.31" r="1.78" fill="#000"/>
<circle cx="1076.39" cy="105.07" r="1.78" fill="#000"/>
<circle cx="1078.56" cy="94.47" r="1.78" fill="#000"/>
<circle cx="1079.28" cy="96.54" r="1.78" fill="#000"/>
<circle cx="1081.45" cy="87.11" r="1.78" fill="#000"/>
<circle cx="1082.54" cy="89.14" r="1.78" fill="#000"/>
<circle cx="1084.35" cy="91.54" r="1.78" fill="#000"/>
<circle cx="1085.43" cy="91.80" r="1.78" fill="#000"/>
<circle cx="1087.61" cy="99.47" r="1.78" fill="#000"/>
<circle cx="1088.33" cy="108.00" r="1.78" fill="#000"/>
<circle cx="1091.59" cy="93.88" r="1.78" fill="#000"/>
<circle cx="1093.40" cy="95.37" r="1.78" fill="#000"/>
<circle cx="1094.48" cy="98.62" r="1.78" fill="#000"/>
<circle cx="1096.65" cy="100.65" r="1.78" fill="#000"/>
<circle cx="1097.38" cy="93.88" r="1.78" fill="#000"/>
<circle cx="1099.55" cy="106.83" r="1.78" fill="#000"/>
<circle cx="1100.63" cy="101.55" r="1.78" fill="#000"/>
<circle cx="1102.44" cy="105.65" r="1.78" fill="#000"/>
<circle cx="1103.53" cy="105.65" r="1.78" fill="#000"/>
<circle cx="1105.34" cy="105.07" r="1.78" fill="#000"/>
<circle cx="1106.42" cy="94.47" r="1.78" fill="#000"/>
<circle cx="1108.23" cy="102.46" r="1.78" fill="#000"/>
<circle cx="1109.32" cy="102.72" r="1.78" fill="#000"/>
<circle cx="1110.77" cy="97.45" r="1.78" fill="#000"/>
<circle cx="1112.58" cy="97.45" r="1.78" fill="#000"/>
<circle cx="1113.30" cy="95.37" r="1.78" fill="#000"/>
<circle cx="1115.47" cy="102.72" r="1.78" fill="#000"/>
<circle cx="1116.56" cy="92.39" r="1.78" fill="#000"/>
<circle cx="1118.37" cy="84.77" r="1.78" fill="#000"/>
<circle cx="1119.45" cy="92.39" r="1.78" fill="#000"/>
<circle cx="1121.62" cy="90.63" r="1.78" fill="#000"/>
<circle cx="1122.71" cy="96.86" r="1.78" fill="#000"/>
<circle cx="1124.52" cy="82.11" r="1.78" fill="#000"/>
<circle cx="1125.60" cy="101.23" r="1.78" fill="#000"/>
<circle cx="1127.41" cy="97.72" r="1.78" fill="#000"/>
<circle cx="1128.50" cy="99.47" r="1.78" fill="#000"/>
<circle cx="1130.31" cy="98.89" r="1.78" fill="#000"/>
<circle cx="1131.39" cy="95.64" r="1.78" fill="#000"/>
<circle cx="1133.56" cy="106.56" r="1.78" fill="#000"/>
<circle cx="1134.65" cy="105.39" r="1.78" fill="#000"/>
<circle cx="1136.46" cy="92.97" r="1.78" fill="#000"/>
<circle cx="1137.55" cy="100.65" r="1.78" fill="#000"/>
<circle cx="1139.35" cy="113.01" r="1.78" fill="#000"/>
<circle cx="1140.44" cy="99.21" r="1.78" fill="#000"/>
<circle cx="1143.34" cy="97.45" r="1.78" fill="#000"/>
<circle cx="1145.51" cy="91.80" r="1.78" fill="#000"/>
<circle cx="1146.59" cy="86.21" r="1.78" fill="#000"/>
<circle cx="1148.76" cy="91.80" r="1.78" fill="#000"/>
<circle cx="1149.85" cy="92.39" r="1.78" fill="#000"/>
<circle cx="1151.66" cy="84.45" r="1.78" fill="#000"/>
<circle cx="1152.74" cy="89.72" r="1.78" fill="#000"/>
<circle cx="1154.55" cy="87.97" r="1.78" fill="#000"/>
<circle cx="1155.64" cy="88.55" r="1.78" fill="#000"/>
<circle cx="1157.45" cy="103.90" r="1.78" fill="#000"/>
<circle cx="1158.53" cy="100.65" r="1.78" fill="#000"/>
<circle cx="1160.34" cy="101.82" r="1.78" fill="#000"/>
<circle cx="1161.43" cy="113.01" r="1.78" fill="#000"/>
<circle cx="1163.60" cy="101.55" r="1.78" fill="#000"/>
<circle cx="1164.32" cy="106.24" r="1.78" fill="#000"/>
<circle cx="1166.50" cy="103.63" r="1.78" fill="#000"/>
<circle cx="1169.39" cy="96.86" r="1.78" fill="#000"/>
<circle cx="1170.48" cy="91.54" r="1.78" fill="#000"/>
<circle cx="1172.65" cy="91.22" r="1.78" fill="#000"/>
<circle cx="1173.73" cy="95.64" r="1.78" fill="#000"/>
<circle cx="1175.43" cy="86.53" r="1.78" fill="#000"/>
<circle cx="1176.51" cy="81.52" r="1.78" fill="#000"/>
<circle cx="1179.41" cy="92.12" r="1.78" fill="#000"/>
<circle cx="1180.49" cy="88.55" r="1.78" fill="#000"/>
<circle cx="1182.30" cy="85.94" r="1.78" fill="#000"/>
<circle cx="1183.39" cy="80.35" r="1.78" fill="#000"/>
<circle cx="1185.56" cy="87.38" r="1.78" fill="#000"/>
<circle cx="1186.28" cy="81.20" r="1.78" fill="#000"/>
<circle cx="1188.46" cy="83.54" r="1.78" fill="#000"/>
<circle cx="1189.54" cy="82.96" r="1.78" fill="#000"/>
<circle cx="1191.35" cy="93.88" r="1.78" fill="#000"/>
<circle cx="1192.44" cy="85.04" r="1.78" fill="#000"/>
<circle cx="1194.25" cy="85.04" r="1.78" fill="#000"/>
<circle cx="1195.33" cy="78.59" r="1.78" fill="#000"/>
<circle cx="1197.50" cy="91.54" r="1.78" fill="#000"/>
<circle cx="1198.59" cy="94.73" r="1.78" fill="#000"/>
<circle cx="1200.40" cy="87.11" r="1.78" fill="#000"/>
<circle cx="1201.48" cy="90.90" r="1.78" fill="#000"/>
<circle cx="1203.66" cy="83.86" r="1.78" fill="#000"/>
<circle cx="1204.38" cy="95.37" r="1.78" fill="#000"/>
<circle cx="1206.55" cy="94.73" r="1.78" fill="#000"/>
<circle cx="1207.27" cy="97.72" r="1.78" fill="#000"/>
<circle cx="1209.45" cy="97.72" r="1.78" fill="#000"/>
<circle cx="1210.53" cy="91.22" r="1.78" fill="#000"/>
<circle cx="1212.34" cy="104.80" r="1.78" fill="#000"/>
<circle cx="1213.43" cy="95.64" r="1.78" fill="#000"/>
<circle cx="1215.24" cy="99.47" r="1.78" fill="#000"/>
<circle cx="1216.32" cy="98.89" r="1.78" fill="#000"/>
<circle cx="1218.49" cy="92.71" r="1.78" fill="#000"/>
<circle cx="1219.58" cy="99.79" r="1.78" fill="#000"/>
<circle cx="1221.39" cy="89.46" r="1.78" fill="#000"/>
<circle cx="1222.47" cy="98.62" r="1.78" fill="#000"/>
<circle cx="1224.28" cy="96.54" r="1.78" fill="#000"/>
<circle cx="1225.37" cy="99.79" r="1.78" fill="#000"/>
<circle cx="1227.54" cy="87.38" r="1.78" fill="#000"/>
<circle cx="1228.26" cy="99.47" r="1.78" fill="#000"/>
<circle cx="1230.43" cy="98.89" r="1.78" fill="#000"/>
<circle cx="1231.52" cy="89.14" r="1.78" fill="#000"/>
<circle cx="1233.33" cy="102.72" r="1.78" fill="#000"/>
<circle cx="1234.41" cy="90.04" r="1.78" fill="#000"/>
<circle cx="1236.59" cy="92.39" r="1.78" fill="#000"/>
<circle cx="1237.31" cy="80.61" r="1.78" fill="#000"/>
<circle cx="1239.48" cy="88.29" r="1.78" fill="#000"/>
<circle cx="1240.57" cy="83.28" r="1.78" fill="#000"/>
<circle cx="1242.38" cy="90.63" r="1.78" fill="#000"/>
<circle cx="1243.46" cy="96.86" r="1.78" fill="#000"/>
<circle cx="1244.55" cy="98.62" r="1.78" fill="#000"/>
<circle cx="1246.36" cy="90.04" r="1.78" fill="#000"/>
<circle cx="1247.44" cy="89.46" r="1.78" fill="#000"/>
<circle cx="1249.25" cy="94.73" r="1.78" fill="#000"/>
<circle cx="1250.34" cy="103.63" r="1.78" fill="#000"/>
<circle cx="1252.51" cy="103.63" r="1.78" fill="#000"/>
<circle cx="1253.23" cy="92.71" r="1.78" fill="#000"/>
<circle cx="1255.40" cy="85.94" r="1.78" fill="#000"/>
<circle cx="1256.49" cy="105.39" r="1.78" fill="#000"/>
<circle cx="1258.30" cy="92.12" r="1.78" fill="#000"/>
<circle cx="1259.38" cy="103.31" r="1.78" fill="#000"/>
<circle cx="1261.56" cy="106.56" r="1.78" fill="#000"/>
<circle cx="1262.28" cy="96.86" r="1.78" fill="#000"/>
<circle cx="1264.45" cy="92.97" r="1.78" fill="#000"/>
<circle cx="1265.54" cy="94.47" r="1.78" fill="#000"/>
<circle cx="1267.35" cy="100.06" r="1.78" fill="#000"/>
<circle cx="1268.43" cy="106.24" r="1.78" fill="#000"/>
<circle cx="1270.60" cy="100.38" r="1.78" fill="#000"/>
<circle cx="1271.33" cy="106.56" r="1.78" fill="#000"/>
<circle cx="1273.50" cy="98.04" r="1.78" fill="#000"/>
<circle cx="1274.58" cy="97.72" r="1.78" fill="#000"/>
<circle cx="1276.39" cy="95.37" r="1.78" fill="#000"/>
<circle cx="1277.48" cy="95.05" r="1.78" fill="#000"/>
<circle cx="1279.29" cy="102.72" r="1.78" fill="#000"/>
<circle cx="1280.37" cy="106.83" r="1.78" fill="#000"/>
<circle cx="1282.55" cy="109.49" r="1.78" fill="#000"/>
<circle cx="1283.63" cy="97.13" r="1.78" fill="#000"/>
<circle cx="1285.44" cy="101.55" r="1.78" fill="#000"/>
<circle cx="1286.53" cy="98.62" r="1.78" fill="#000"/>
<circle cx="1288.34" cy="97.72" r="1.78" fill="#000"/>
<circle cx="1289.42" cy="85.04" r="1.78" fill="#000"/>
<circle cx="1291.59" cy="99.21" r="1.78" fill="#000"/>
<circle cx="1292.68" cy="78.00" r="1.78" fill="#000"/>
<circle cx="1294.49" cy="87.38" r="1.78" fill="#000"/>
<circle cx="1295.57" cy="97.72" r="1.78" fill="#000"/>
<circle cx="1297.74" cy="85.36" r="1.78" fill="#000"/>
<circle cx="1298.47" cy="91.54" r="1.78" fill="#000"/>
<circle cx="1300.64" cy="95.96" r="1.78" fill="#000"/>
<circle cx="1301.72" cy="88.55" r="1.78" fill="#000"/>
<circle cx="1303.53" cy="90.31" r="1.78" fill="#000"/>
<circle cx="162.24" cy="67.72" r="1.78" fill="#ffa500"/>
<circle cx="164.41" cy="68.25" r="1.78" fill="#ffa500"/>
<circle cx="167.30" cy="71.50" r="1.78" fill="#ffa500"/>
<circle cx="171.28" cy="72.73" r="1.78" fill="#ffa500"/>
<circle cx="165.49" cy="75.07" r="1.78" fill="#ffa500"/>
<circle cx="168.39" cy="75.39" r="1.78" fill="#ffa500"/>
<circle cx="463.09" cy="76.51" r="1.78" fill="#ffa500"/>
<circle cx="548.50" cy="120.68" r="1.78" fill="#ffa500"/>
<circle cx="1178.32" cy="74.17" r="1.78" fill="#ffa500"/>
<circle cx="805.50" cy="124.69" r="1.78" fill="#ffa500"/>
<circle cx="1090.00" cy="129.70" r="1.78" fill="#ffa500"/>
<circle cx="191.30" cy="289.30" r="1.78" fill="#ffa500"/>
<circle cx="965.00" cy="151.50" r="1.78" fill="#ffa500"/>
</g>
<line x1="162.00" y1="321.50" x2="162.00" y2="35.50" stroke="#800080" stroke-width="2.08" stroke-dasharray="2.08 3.44"/>
<line x1="1303.00" y1="321.50" x2="1303.00" y2="35.50" stroke="#800080" stroke-width="2.08" stroke-dasharray="2.08 3.44"/>
<line x1="104.95" y1="35.50" x2="1486.05" y2="35.50" stroke="#000" stroke-width="1.11"/>
<line x1="104.95" y1="321.50" x2="1486.05" y2="321.50" stroke="#000" stroke-width="1.11"/>
<line x1="105.50" y1="34.95" x2="105.50" y2="322.05" stroke="#000" stroke-width="1.11"/>
<line x1="1485.50" y1="34.95" x2="1485.50" y2="322.05" stroke="#000" stroke-width="1.11"/>
<line x1="162.30" y1="321.50" x2="162.30" y2="326.36" stroke="#000" stroke-width="1.11"/>
<text x="159.53" y="341.90" font-size="13.889" textLength="7.94" lengthAdjust="spacingAndGlyphs">0</text>
<line x1="460.08" y1="321.50" x2="460.08" y2="326.36" stroke="#000" stroke-width="1.11"/>
<text x="446.81" y="341.90" font-size="13.889" textLength="26.53" lengthAdjust="spacingAndGlyphs">200</text>
<line x1="757.86" y1="321.50" x2="757.86" y2="326.36" stroke="#000" stroke-width="1.11"/>
<text x="744.59" y="341.90" font-size="13.889" textLength="26.53" lengthAdjust="spacingAndGlyphs">400</text>
<line x1="1055.64" y1="321.50" x2="1055.64" y2="326.36" stroke="#000" stroke-width="1.11"/>
<text x="1042.37" y="341.90" font-size="13.889" textLength="26.53" lengthAdjust="spacingAndGlyphs">600</text>
<line x1="1353.42" y1="321.50" x2="1353.42" y2="326.36" stroke="#000" stroke-width="1.11"/>
<text x="1340.15" y="341.90" font-size="13.889" textLength="26.53" lengthAdjust="spacingAndGlyphs">800</text>
<line x1="100.64" y1="269.50" x2="105.50" y2="269.50" stroke="#000" stroke-width="1.11"/>
<text x="65.13" y="274.50" font-size="13.889" textLength="30.95" lengthAdjust="spacingAndGlyphs">8.15</text>
<line x1="100.64" y1="216.50" x2="105.50" y2="216.50" stroke="#000" stroke-width="1.11"/>
<text x="65.13" y="221.50" font-size="13.889" textLength="30.95" lengthAdjust="spacingAndGlyphs">8.20</text>
<line x1="100.64" y1="163.50" x2="105.50" y2="163.50" stroke="#000" stroke-width="1.11"/>
<text x="65.13" y="168.50" font-size="13.889" textLength="30.95" lengthAdjust="spacingAndGlyphs">8.25</text>
<line x1="100.64" y1="110.50" x2="105.50" y2="110.50" stroke="#000" stroke-width="1.11"/>
<text x="65.13" y="115.50" font-size="13.889" textLength="30.95" lengthAdjust="spacingAndGlyphs">8.30</text>
<line x1="100.64" y1="57.50" x2="105.50" y2="57.50" stroke="#000" stroke-width="1.11"/>
<text x="65.13" y="62.50" font-size="13.889" textLength="30.95" lengthAdjust="spacingAndGlyphs">8.35</text>
<text x="710.08" y="26.70" font-size="16.667" textLength="170.64" lengthAdjust="spacingAndGlyphs">AGASC ID 51130648</text>
<text x="709.59" y="312.00" font-size="13.889" textLength="44.22" lengthAdjust="spacingAndGlyphs">50959</text>
<rect x="1361.40" y="42.40" width="117.20" height="26.90" rx="2.8" ry="2.8" fill="#fff" fill-opacity="0.8" stroke="#cccccc" stroke-width="1.11"/>
<line x1="1365.80" y1="53.80" x2="1395.90" y2="53.80" stroke="#008000" stroke-width="2.08"/>
<text x="1407.00" y="58.60" font-size="13.889" textLength="30.88" lengthAdjust="spacingAndGlyphs">mag</text>
<text x="1436.00" y="60.80" font-size="10.200" font-style="italic" textLength="35.60" lengthAdjust="spacingAndGlyphs">AGASC</text>
<rect x="1348.40" y="247.60" width="130.10" height="66.80" rx="2.8" ry="2.8" fill="#fff" fill-opacity="0.8" stroke="#cccccc" stroke-width="1.11"/>
<circle cx="1367.40" cy="260.40" r="1.6" fill="#ff0000"/>
<circle cx="1367.40" cy="281.30" r="1.6" fill="#ffa500"/>
<circle cx="1367.40" cy="302.20" r="1.6" fill="#000"/>
<text x="1392.30" y="263.90" font-size="13.889" textLength="47.24" lengthAdjust="spacingAndGlyphs">not OK</text>
<text x="1393.00" y="284.80" font-size="13.889" textLength="80.13" lengthAdjust="spacingAndGlyphs">Highlighted</text>
<text x="1393.00" y="305.70" font-size="13.889" textLength="20.06" lengthAdjust="spacingAndGlyphs">OK</text>
<g clip-path="url(#c2)">
<circle cx="170.38" cy="493.46" r="1.78" fill="#000"/>
<circle cx="173.46" cy="472.47" r="1.78" fill="#000"/>
<circle cx="174.54" cy="472.47" r="1.78" fill="#000"/>
<circle cx="176.35" cy="489.30" r="1.78" fill="#000"/>
<circle cx="179.25" cy="488.40" r="1.78" fill="#000"/>
<circle cx="177.44" cy="498.35" r="1.78" fill="#000"/>
<circle cx="180.33" cy="513.37" r="1.78" fill="#000"/>
<circle cx="183.59" cy="519.34" r="1.78" fill="#000"/>
<circle cx="185.40" cy="516.44" r="1.78" fill="#000"/>
<circle cx="186.48" cy="538.34" r="1.78" fill="#000"/>
<circle cx="188.29" cy="549.37" r="1.78" fill="#000"/>
<circle cx="189.38" cy="529.47" r="1.78" fill="#000"/>
<circle cx="192.27" cy="542.50" r="1.78" fill="#000"/>
<circle cx="193.36" cy="510.11" r="1.78" fill="#000"/>
<circle cx="195.53" cy="514.27" r="1.78" fill="#000"/>
<circle cx="196.62" cy="548.47" r="1.78" fill="#000"/>
<circle cx="198.43" cy="512.28" r="1.78" fill="#000"/>
<circle cx="199.51" cy="496.36" r="1.78" fill="#000"/>
<circle cx="201.68" cy="522.23" r="1.78" fill="#000"/>
<circle cx="202.41" cy="517.35" r="1.78" fill="#000"/>
<circle cx="204.58" cy="486.41" r="1.78" fill="#000"/>
<circle cx="205.30" cy="519.34" r="1.78" fill="#000"/>
<circle cx="207.47" cy="512.46" r="1.78" fill="#000"/>
<circle cx="208.56" cy="517.53" r="1.78" fill="#000"/>
<circle cx="210.37" cy="500.34" r="1.78" fill="#000"/>
<circle cx="211.45" cy="495.27" r="1.78" fill="#000"/>
<circle cx="213.26" cy="474.28" r="1.78" fill="#000"/>
<circle cx="214.35" cy="518.25" r="1.78" fill="#000"/>
<circle cx="216.52" cy="492.38" r="1.78" fill="#000"/>
<circle cx="217.61" cy="512.28" r="1.78" fill="#000"/>
<circle cx="219.41" cy="539.42" r="1.78" fill="#000"/>
<circle cx="220.50" cy="495.27" r="1.78" fill="#000"/>
<circle cx="222.67" cy="521.87" r="1.78" fill="#000"/>
<circle cx="223.40" cy="554.44" r="1.78" fill="#000"/>
<circle cx="225.57" cy="503.23" r="1.78" fill="#000"/>
<circle cx="226.65" cy="528.38" r="1.78" fill="#000"/>
<circle cx="228.46" cy="517.35" r="1.78" fill="#000"/>
<circle cx="229.55" cy="533.45" r="1.78" fill="#000"/>
<circle cx="231.36" cy="513.37" r="1.78" fill="#000"/>
<circle cx="232.44" cy="519.34" r="1.78" fill="#000"/>
<circle cx="234.25" cy="502.33" r="1.78" fill="#000"/>
<circle cx="235.70" cy="496.18" r="1.78" fill="#000"/>
<circle cx="237.51" cy="502.33" r="1.78" fill="#000"/>
<circle cx="238.59" cy="492.38" r="1.78" fill="#000"/>
<circle cx="240.40" cy="506.49" r="1.78" fill="#000"/>
<circle cx="241.49" cy="467.41" r="1.78" fill="#000"/>
<circle cx="243.66" cy="468.49" r="1.78" fill="#000"/>
<circle cx="244.38" cy="509.38" r="1.78" fill="#000"/>
<circle cx="246.56" cy="501.42" r="1.78" fill="#000"/>
<circle cx="247.64" cy="483.33" r="1.78" fill="#000"/>
<circle cx="249.45" cy="467.41" r="1.78" fill="#000"/>
<circle cx="250.54" cy="479.35" r="1.78" fill="#000"/>
<circle cx="252.71" cy="468.49" r="1.78" fill="#000"/>
<circle cx="253.43" cy="532.36" r="1.78" fill="#000"/>
<circle cx="255.60" cy="530.37" r="1.78" fill="#000"/>
<circle cx="256.69" cy="546.30" r="1.78" fill="#000"/>
<circle cx="258.50" cy="554.44" r="1.78" fill="#000"/>
<circle cx="259.58" cy="539.42" r="1.78" fill="#000"/>
<circle cx="260.67" cy="524.58" r="1.78" fill="#000"/>
<circle cx="262.48" cy="544.49" r="1.78" fill="#000"/>
<circle cx="263.56" cy="548.47" r="1.78" fill="#000"/>
<circle cx="265.37" cy="499.25" r="1.78" fill="#000"/>
<circle cx="266.46" cy="540.33" r="1.78" fill="#000"/>
<circle cx="268.63" cy="497.26" r="1.78" fill="#000"/>
<circle cx="269.72" cy="531.46" r="1.78" fill="#000"/>
<circle cx="271.53" cy="490.21" r="1.78" fill="#000"/>
<circle cx="272.61" cy="539.42" r="1.78" fill="#000"/>
<circle cx="274.42" cy="532.36" r="1.78" fill="#000"/>
<circle cx="275.51" cy="542.50" r="1.78" fill="#000"/>
<circle cx="278.04" cy="526.21" r="1.78" fill="#000"/>
<circle cx="279.13" cy="525.49" r="1.78" fill="#000"/>
<circle cx="280.57" cy="520.24" r="1.78" fill="#000"/>
<circle cx="281.66" cy="540.33" r="1.78" fill="#000"/>
<circle cx="284.55" cy="538.34" r="1.78" fill="#000"/>
<circle cx="287.45" cy="507.21" r="1.78" fill="#000"/>
<circle cx="289.26" cy="522.23" r="1.78" fill="#000"/>
<circle cx="290.34" cy="539.42" r="1.78" fill="#000"/>
<circle cx="292.52" cy="531.46" r="1.78" fill="#000"/>
<circle cx="293.60" cy="505.22" r="1.78" fill="#000"/>
<circle cx="295.41" cy="548.47" r="1.78" fill="#000"/>
<circle cx="296.50" cy="486.41" r="1.78" fill="#000"/>
<circle cx="298.67" cy="529.47" r="1.78" fill="#000"/>
<circle cx="299.39" cy="534.35" r="1.78" fill="#000"/>
<circle cx="301.56" cy="505.22" r="1.78" fill="#000"/>
<circle cx="302.65" cy="521.33" r="1.78" fill="#000"/>
<circle cx="304.10" cy="531.46" r="1.78" fill="#000"/>
<circle cx="304.82" cy="499.25" r="1.78" fill="#000"/>
<circle cx="305.43" cy="499.25" r="1.78" fill="#000"/>
<circle cx="307.24" cy="560.41" r="1.78" fill="#000"/>
<circle cx="308.32" cy="530.37" r="1.78" fill="#000"/>
<circle cx="310.49" cy="489.30" r="1.78" fill="#000"/>
<circle cx="311.58" cy="485.32" r="1.78" fill="#000"/>
<circle cx="313.39" cy="472.47" r="1.78" fill="#000"/>
<circle cx="314.48" cy="483.33" r="1.78" fill="#000"/>
<circle cx="316.28" cy="483.33" r="1.78" fill="#000"/>
<circle cx="317.37" cy="479.35" r="1.78" fill="#000"/>
<circle cx="319.54" cy="527.48" r="1.78" fill="#000"/>
<circle cx="320.63" cy="471.39" r="1.78" fill="#000"/>
<circle cx="322.44" cy="502.33" r="1.78" fill="#000"/>
<circle cx="323.52" cy="532.36" r="1.78" fill="#000"/>
<circle cx="325.33" cy="525.49" r="1.78" fill="#000"/>
<circle cx="326.42" cy="521.33" r="1.78" fill="#000"/>
<circle cx="327.50" cy="505.22" r="1.78" fill="#000"/>
<circle cx="329.31" cy="537.43" r="1.78" fill="#000"/>
<circle cx="330.40" cy="517.35" r="1.78" fill="#000"/>
<circle cx="332.57" cy="548.47" r="1.78" fill="#000"/>
<circle cx="333.66" cy="544.49" r="1.78" fill="#000"/>
<circle cx="335.46" cy="541.41" r="1.78" fill="#000"/>
<circle cx="336.55" cy="529.47" r="1.78" fill="#000"/>
<circle cx="338.36" cy="505.22" r="1.78" fill="#000"/>
<circle cx="339.45" cy="496.36" r="1.78" fill="#000"/>
<circle cx="341.62" cy="561.31" r="1.78" fill="#000"/>
<circle cx="342.34" cy="542.50" r="1.78" fill="#000"/>
<circle cx="344.51" cy="508.30" r="1.78" fill="#000"/>
<circle cx="345.24" cy="540.33" r="1.78" fill="#000"/>
<circle cx="347.41" cy="493.28" r="1.78" fill="#000"/>
<circle cx="348.49" cy="519.34" r="1.78" fill="#000"/>
<circle cx="350.30" cy="523.50" r="1.78" fill="#000"/>
<circle cx="351.39" cy="517.35" r="1.78" fill="#000"/>
<circle cx="353.56" cy="518.25" r="1.78" fill="#000"/>
<circle cx="354.64" cy="528.38" r="1.78" fill="#000"/>
<circle cx="357.54" cy="541.41" r="1.78" fill="#000"/>
<circle cx="359.35" cy="531.46" r="1.78" fill="#000"/>
<circle cx="360.80" cy="531.46" r="1.78" fill="#000"/>
<circle cx="362.61" cy="549.37" r="1.78" fill="#000"/>
<circle cx="363.33" cy="522.23" r="1.78" fill="#000"/>
<circle cx="365.50" cy="528.38" r="1.78" fill="#000"/>
<circle cx="366.59" cy="537.43" r="1.78" fill="#000"/>
<circle cx="368.40" cy="522.23" r="1.78" fill="#000"/>
<circle cx="369.48" cy="559.32" r="1.78" fill="#000"/>
<circle cx="371.65" cy="518.25" r="1.78" fill="#000"/>
<circle cx="372.38" cy="537.43" r="1.78" fill="#000"/>
<circle cx="374.19" cy="551.36" r="1.78" fill="#000"/>
<circle cx="375.27" cy="553.35" r="1.78" fill="#000"/>
<circle cx="377.44" cy="562.40" r="1.78" fill="#000"/>
<circle cx="378.53" cy="523.50" r="1.78" fill="#000"/>
<circle cx="380.34" cy="532.36" r="1.78" fill="#000"/>
<circle cx="381.42" cy="505.22" r="1.78" fill="#000"/>
<circle cx="383.23" cy="530.37" r="1.78" fill="#000"/>
<circle cx="384.32" cy="558.42" r="1.78" fill="#000"/>
<circle cx="386.49" cy="570.36" r="1.78" fill="#000"/>
<circle cx="387.58" cy="550.46" r="1.78" fill="#000"/>
<circle cx="389.38" cy="567.29" r="1.78" fill="#000"/>
<circle cx="390.47" cy="555.34" r="1.78" fill="#000"/>
<circle cx="391.56" cy="511.38" r="1.78" fill="#000"/>
<circle cx="393.37" cy="550.46" r="1.78" fill="#000"/>
<circle cx="394.45" cy="498.35" r="1.78" fill="#000"/>
<circle cx="396.62" cy="528.38" r="1.78" fill="#000"/>
<circle cx="397.71" cy="505.22" r="1.78" fill="#000"/>
<circle cx="399.52" cy="508.30" r="1.78" fill="#000"/>
<circle cx="400.60" cy="538.34" r="1.78" fill="#000"/>
<circle cx="402.41" cy="493.28" r="1.78" fill="#000"/>
<circle cx="403.50" cy="482.42" r="1.78" fill="#000"/>
<circle cx="405.67" cy="498.35" r="1.78" fill="#000"/>
<circle cx="406.76" cy="491.29" r="1.78" fill="#000"/>
<circle cx="408.56" cy="515.36" r="1.78" fill="#000"/>
<circle cx="409.65" cy="495.27" r="1.78" fill="#000"/>
<circle cx="411.46" cy="494.37" r="1.78" fill="#000"/>
<circle cx="412.55" cy="503.23" r="1.78" fill="#000"/>
<circle cx="414.35" cy="519.34" r="1.78" fill="#000"/>
<circle cx="415.44" cy="525.49" r="1.78" fill="#000"/>
<circle cx="417.61" cy="520.42" r="1.78" fill="#000"/>
<circle cx="418.70" cy="521.33" r="1.78" fill="#000"/>
<circle cx="420.51" cy="505.22" r="1.78" fill="#000"/>
<circle cx="421.59" cy="526.39" r="1.78" fill="#000"/>
<circle cx="424.49" cy="516.44" r="1.78" fill="#000"/>
<circle cx="426.30" cy="507.39" r="1.78" fill="#000"/>
<circle cx="427.38" cy="515.36" r="1.78" fill="#000"/>
<circle cx="429.55" cy="489.30" r="1.78" fill="#000"/>
<circle cx="430.64" cy="507.39" r="1.78" fill="#000"/>
<circle cx="432.45" cy="527.48" r="1.78" fill="#000"/>
<circle cx="433.53" cy="516.44" r="1.78" fill="#000"/>
<circle cx="435.34" cy="535.44" r="1.78" fill="#000"/>
<circle cx="436.43" cy="512.28" r="1.78" fill="#000"/>
<circle cx="438.24" cy="531.46" r="1.78" fill="#000"/>
<circle cx="439.32" cy="530.37" r="1.78" fill="#000"/>
<circle cx="441.50" cy="487.31" r="1.78" fill="#000"/>
<circle cx="442.58" cy="496.36" r="1.78" fill="#000"/>
<circle cx="444.39" cy="498.35" r="1.78" fill="#000"/>
<circle cx="445.48" cy="531.46" r="1.78" fill="#000"/>
<circle cx="447.65" cy="509.38" r="1.78" fill="#000"/>
<circle cx="448.73" cy="495.27" r="1.78" fill="#000"/>
<circle cx="449.46" cy="512.28" r="1.78" fill="#000"/>
<circle cx="451.51" cy="492.38" r="1.78" fill="#000"/>
<circle cx="453.32" cy="490.39" r="1.78" fill="#000"/>
<circle cx="454.41" cy="502.33" r="1.78" fill="#000"/>
<circle cx="456.58" cy="496.36" r="1.78" fill="#000"/>
<circle cx="457.30" cy="485.32" r="1.78" fill="#000"/>
<circle cx="458.39" cy="476.27" r="1.78" fill="#000"/>
<circle cx="460.56" cy="459.26" r="1.78" fill="#000"/>
<circle cx="461.28" cy="492.38" r="1.78" fill="#000"/>
<circle cx="464.54" cy="471.39" r="1.78" fill="#000"/>
<circle cx="466.35" cy="488.40" r="1.78" fill="#000"/>
<circle cx="467.44" cy="460.35" r="1.78" fill="#000"/>
<circle cx="469.25" cy="479.35" r="1.78" fill="#000"/>
<circle cx="470.33" cy="469.40" r="1.78" fill="#000"/>
<circle cx="472.50" cy="482.42" r="1.78" fill="#000"/>
<circle cx="473.59" cy="494.37" r="1.78" fill="#000"/>
<circle cx="475.40" cy="541.41" r="1.78" fill="#000"/>
<circle cx="476.48" cy="527.48" r="1.78" fill="#000"/>
<circle cx="478.66" cy="548.47" r="1.78" fill="#000"/>
<circle cx="479.38" cy="502.33" r="1.78" fill="#000"/>
<circle cx="481.55" cy="526.39" r="1.78" fill="#000"/>
<circle cx="482.27" cy="549.37" r="1.78" fill="#000"/>
<circle cx="485.17" cy="516.44" r="1.78" fill="#000"/>
<circle cx="487.34" cy="565.30" r="1.78" fill="#000"/>
<circle cx="488.43" cy="498.35" r="1.78" fill="#000"/>
<circle cx="490.24" cy="524.40" r="1.78" fill="#000"/>
<circle cx="491.32" cy="540.33" r="1.78" fill="#000"/>
<circle cx="493.49" cy="540.33" r="1.78" fill="#000"/>
<circle cx="493.49" cy="545.39" r="1.78" fill="#000"/>
<circle cx="496.39" cy="506.31" r="1.78" fill="#000"/>
<circle cx="497.47" cy="501.42" r="1.78" fill="#000"/>
<circle cx="499.28" cy="514.27" r="1.78" fill="#000"/>
<circle cx="500.37" cy="514.27" r="1.78" fill="#000"/>
<circle cx="502.54" cy="543.40" r="1.78" fill="#000"/>
<circle cx="503.26" cy="556.25" r="1.78" fill="#000"/>
<circle cx="505.43" cy="550.46" r="1.78" fill="#000"/>
<circle cx="506.52" cy="558.42" r="1.78" fill="#000"/>
<circle cx="508.33" cy="562.40" r="1.78" fill="#000"/>
<circle cx="509.41" cy="562.40" r="1.78" fill="#000"/>
<circle cx="511.59" cy="535.44" r="1.78" fill="#000"/>
<circle cx="512.31" cy="520.42" r="1.78" fill="#000"/>
<circle cx="514.48" cy="553.35" r="1.78" fill="#000"/>
<circle cx="515.57" cy="535.44" r="1.78" fill="#000"/>
<circle cx="517.38" cy="547.38" r="1.78" fill="#000"/>
<circle cx="518.46" cy="533.45" r="1.78" fill="#000"/>
<circle cx="520.27" cy="537.43" r="1.78" fill="#000"/>
<circle cx="521.36" cy="521.33" r="1.78" fill="#000"/>
<circle cx="524.25" cy="516.44" r="1.78" fill="#000"/>
<circle cx="525.34" cy="512.28" r="1.78" fill="#000"/>
<circle cx="528.23" cy="519.34" r="1.78" fill="#000"/>
<circle cx="530.40" cy="539.42" r="1.78" fill="#000"/>
<circle cx="531.49" cy="525.49" r="1.78" fill="#000"/>
<circle cx="533.30" cy="545.39" r="1.78" fill="#000"/>
<circle cx="534.38" cy="552.45" r="1.78" fill="#000"/>
<circle cx="536.56" cy="562.40" r="1.78" fill="#000"/>
<circle cx="537.64" cy="589.36" r="1.78" fill="#000"/>
<circle cx="539.45" cy="547.38" r="1.78" fill="#000"/>
<circle cx="540.54" cy="538.34" r="1.78" fill="#000"/>
<circle cx="542.35" cy="537.43" r="1.78" fill="#000"/>
<circle cx="543.43" cy="525.49" r="1.78" fill="#000"/>
<circle cx="545.60" cy="550.46" r="1.78" fill="#000"/>
<circle cx="546.69" cy="578.32" r="1.78" fill="#000"/>
<circle cx="549.58" cy="552.45" r="1.78" fill="#000"/>
<circle cx="551.39" cy="553.35" r="1.78" fill="#000"/>
<circle cx="552.48" cy="532.36" r="1.78" fill="#000"/>
<circle cx="554.29" cy="540.33" r="1.78" fill="#000"/>
<circle cx="555.37" cy="565.30" r="1.78" fill="#000"/>
<circle cx="557.55" cy="507.21" r="1.78" fill="#000"/>
<circle cx="558.27" cy="583.39" r="1.78" fill="#000"/>
<circle cx="560.44" cy="528.38" r="1.78" fill="#000"/>
<circle cx="561.53" cy="558.42" r="1.78" fill="#000"/>
<circle cx="563.34" cy="521.33" r="1.78" fill="#000"/>
<circle cx="564.42" cy="551.36" r="1.78" fill="#000"/>
<circle cx="566.23" cy="531.46" r="1.78" fill="#000"/>
<circle cx="567.68" cy="544.49" r="1.78" fill="#000"/>
<circle cx="569.13" cy="527.48" r="1.78" fill="#000"/>
<circle cx="570.57" cy="526.39" r="1.78" fill="#000"/>
<circle cx="572.38" cy="561.31" r="1.78" fill="#000"/>
<circle cx="573.47" cy="533.45" r="1.78" fill="#000"/>
<circle cx="575.64" cy="540.33" r="1.78" fill="#000"/>
<circle cx="576.36" cy="503.23" r="1.78" fill="#000"/>
<circle cx="578.53" cy="487.31" r="1.78" fill="#000"/>
<circle cx="579.26" cy="543.40" r="1.78" fill="#000"/>
<circle cx="581.43" cy="512.28" r="1.78" fill="#000"/>
<circle cx="582.52" cy="546.30" r="1.78" fill="#000"/>
<circle cx="585.41" cy="566.38" r="1.78" fill="#000"/>
<circle cx="587.58" cy="587.37" r="1.78" fill="#000"/>
<circle cx="588.67" cy="549.37" r="1.78" fill="#000"/>
<circle cx="589.39" cy="533.45" r="1.78" fill="#000"/>
<circle cx="591.20" cy="531.46" r="1.78" fill="#000"/>
<circle cx="592.65" cy="524.40" r="1.78" fill="#000"/>
<circle cx="593.73" cy="566.38" r="1.78" fill="#000"/>
<circle cx="594.46" cy="499.25" r="1.78" fill="#000"/>
<circle cx="595.43" cy="499.25" r="1.78" fill="#000"/>
<circle cx="597.24" cy="547.38" r="1.78" fill="#000"/>
<circle cx="598.32" cy="540.33" r="1.78" fill="#000"/>
<circle cx="600.49" cy="519.34" r="1.78" fill="#000"/>
<circle cx="601.58" cy="524.40" r="1.78" fill="#000"/>
<circle cx="603.39" cy="548.47" r="1.78" fill="#000"/>
<circle cx="604.48" cy="516.44" r="1.78" fill="#000"/>
<circle cx="606.65" cy="476.27" r="1.78" fill="#000"/>
<circle cx="607.37" cy="477.18" r="1.78" fill="#000"/>
<circle cx="609.54" cy="528.38" r="1.78" fill="#000"/>
<circle cx="610.63" cy="540.33" r="1.78" fill="#000"/>
<circle cx="612.44" cy="524.40" r="1.78" fill="#000"/>
<circle cx="613.52" cy="561.31" r="1.78" fill="#000"/>
<circle cx="615.33" cy="529.47" r="1.78" fill="#000"/>
<circle cx="616.42" cy="518.25" r="1.78" fill="#000"/>
<circle cx="618.59" cy="540.33" r="1.78" fill="#000"/>
<circle cx="619.31" cy="527.48" r="1.78" fill="#000"/>
<circle cx="622.57" cy="543.40" r="1.78" fill="#000"/>
<circle cx="624.38" cy="552.45" r="1.78" fill="#000"/>
<circle cx="625.46" cy="555.34" r="1.78" fill="#000"/>
<circle cx="627.64" cy="521.33" r="1.78" fill="#000"/>
<circle cx="628.36" cy="530.37" r="1.78" fill="#000"/>
<circle cx="630.53" cy="557.33" r="1.78" fill="#000"/>
<circle cx="631.62" cy="535.44" r="1.78" fill="#000"/>
<circle cx="633.43" cy="505.22" r="1.78" fill="#000"/>
<circle cx="634.51" cy="522.23" r="1.78" fill="#000"/>
<circle cx="636.32" cy="540.33" r="1.78" fill="#000"/>
<circle cx="637.41" cy="539.42" r="1.78" fill="#000"/>
<circle cx="639.58" cy="546.30" r="1.78" fill="#000"/>
<circle cx="640.66" cy="534.35" r="1.78" fill="#000"/>
<circle cx="642.47" cy="526.39" r="1.78" fill="#000"/>
<circle cx="643.56" cy="535.44" r="1.78" fill="#000"/>
<circle cx="645.37" cy="517.35" r="1.78" fill="#000"/>
<circle cx="646.45" cy="513.37" r="1.78" fill="#000"/>
<circle cx="648.26" cy="544.31" r="1.78" fill="#000"/>
<circle cx="649.35" cy="529.47" r="1.78" fill="#000"/>
<circle cx="651.52" cy="525.49" r="1.78" fill="#000"/>
<circle cx="652.61" cy="538.34" r="1.78" fill="#000"/>
<circle cx="653.33" cy="520.42" r="1.78" fill="#000"/>
<circle cx="655.50" cy="539.42" r="1.78" fill="#000"/>
<circle cx="656.59" cy="496.36" r="1.78" fill="#000"/>
<circle cx="658.40" cy="515.36" r="1.78" fill="#000"/>
<circle cx="659.48" cy="518.25" r="1.78" fill="#000"/>
<circle cx="661.65" cy="518.25" r="1.78" fill="#000"/>
<circle cx="662.38" cy="511.38" r="1.78" fill="#000"/>
<circle cx="664.19" cy="532.36" r="1.78" fill="#000"/>
<circle cx="665.27" cy="522.23" r="1.78" fill="#000"/>
<circle cx="667.44" cy="526.39" r="1.78" fill="#000"/>
<circle cx="668.53" cy="530.37" r="1.78" fill="#000"/>
<circle cx="670.34" cy="502.33" r="1.78" fill="#000"/>
<circle cx="671.42" cy="520.42" r="1.78" fill="#000"/>
<circle cx="673.23" cy="481.34" r="1.78" fill="#000"/>
<circle cx="674.32" cy="480.25" r="1.78" fill="#000"/>
<circle cx="676.49" cy="526.39" r="1.78" fill="#000"/>
<circle cx="677.58" cy="493.28" r="1.78" fill="#000"/>
<circle cx="679.38" cy="471.39" r="1.78" fill="#000"/>
<circle cx="680.47" cy="488.40" r="1.78" fill="#000"/>
<circle cx="682.28" cy="510.29" r="1.78" fill="#000"/>
<circle cx="683.37" cy="528.38" r="1.78" fill="#000"/>
<circle cx="685.54" cy="531.46" r="1.78" fill="#000"/>
<circle cx="686.62" cy="540.33" r="1.78" fill="#000"/>
<circle cx="688.43" cy="551.36" r="1.78" fill="#000"/>
<circle cx="689.52" cy="525.49" r="1.78" fill="#000"/>
<circle cx="691.33" cy="508.30" r="1.78" fill="#000"/>
<circle cx="692.41" cy="511.38" r="1.78" fill="#000"/>
<circle cx="694.58" cy="527.48" r="1.78" fill="#000"/>
<circle cx="695.67" cy="527.48" r="1.78" fill="#000"/>
<circle cx="697.48" cy="534.35" r="1.78" fill="#000"/>
<circle cx="698.56" cy="514.27" r="1.78" fill="#000"/>
<circle cx="700.37" cy="507.21" r="1.78" fill="#000"/>
<circle cx="701.46" cy="492.38" r="1.78" fill="#000"/>
<circle cx="703.27" cy="577.42" r="1.78" fill="#000"/>
<circle cx="704.35" cy="511.38" r="1.78" fill="#000"/>
<circle cx="706.53" cy="532.36" r="1.78" fill="#000"/>
<circle cx="707.61" cy="503.23" r="1.78" fill="#000"/>
<circle cx="709.42" cy="512.28" r="1.78" fill="#000"/>
<circle cx="710.51" cy="498.35" r="1.78" fill="#000"/>
<circle cx="712.68" cy="500.34" r="1.78" fill="#000"/>
<circle cx="713.76" cy="525.49" r="1.78" fill="#000"/>
<circle cx="715.57" cy="552.45" r="1.78" fill="#000"/>
<circle cx="716.66" cy="525.49" r="1.78" fill="#000"/>
<circle cx="718.47" cy="526.39" r="1.78" fill="#000"/>
<circle cx="719.55" cy="506.31" r="1.78" fill="#000"/>
<circle cx="720.64" cy="470.30" r="1.78" fill="#000"/>
<circle cx="722.45" cy="524.40" r="1.78" fill="#000"/>
<circle cx="723.53" cy="546.30" r="1.78" fill="#000"/>
<circle cx="725.34" cy="532.36" r="1.78" fill="#000"/>
<circle cx="726.43" cy="536.34" r="1.78" fill="#000"/>
<circle cx="728.60" cy="540.33" r="1.78" fill="#000"/>
<circle cx="729.32" cy="535.44" r="1.78" fill="#000"/>
<circle cx="731.50" cy="560.41" r="1.78" fill="#000"/>
<circle cx="732.58" cy="552.45" r="1.78" fill="#000"/>
<circle cx="734.39" cy="532.36" r="1.78" fill="#000"/>
<circle cx="735.48" cy="557.33" r="1.78" fill="#000"/>
<circle cx="737.65" cy="573.44" r="1.78" fill="#000"/>
<circle cx="738.73" cy="555.34" r="1.78" fill="#000"/>
<circle cx="739.46" cy="545.39" r="1.78" fill="#000"/>
<circle cx="741.51" cy="532.36" r="1.78" fill="#000"/>
<circle cx="743.32" cy="555.34" r="1.78" fill="#000"/>
<circle cx="744.41" cy="546.30" r="1.78" fill="#000"/>
<circle cx="746.58" cy="528.38" r="1.78" fill="#000"/>
<circle cx="747.30" cy="533.45" r="1.78" fill="#000"/>
<circle cx="749.48" cy="534.35" r="1.78" fill="#000"/>
<circle cx="750.56" cy="530.37" r="1.78" fill="#000"/>
<circle cx="752.37" cy="537.43" r="1.78" fill="#000"/>
<circle cx="753.46" cy="528.38" r="1.78" fill="#000"/>
<circle cx="755.27" cy="509.38" r="1.78" fill="#000"/>
<circle cx="756.35" cy="502.33" r="1.78" fill="#000"/>
<circle cx="758.52" cy="512.28" r="1.78" fill="#000"/>
<circle cx="759.25" cy="517.35" r="1.78" fill="#000"/>
<circle cx="761.42" cy="528.38" r="1.78" fill="#000"/>
<circle cx="762.50" cy="546.30" r="1.78" fill="#000"/>
<circle cx="764.31" cy="529.47" r="1.78" fill="#000"/>
<circle cx="765.40" cy="538.34" r="1.78" fill="#000"/>
<circle cx="767.57" cy="558.42" r="1.78" fill="#000"/>
<circle cx="768.66" cy="526.39" r="1.78" fill="#000"/>
<circle cx="770.46" cy="515.36" r="1.78" fill="#000"/>
<circle cx="771.19" cy="528.38" r="1.78" fill="#000"/>
<circle cx="773.36" cy="513.37" r="1.78" fill="#000"/>
<circle cx="774.45" cy="532.36" r="1.78" fill="#000"/>
<circle cx="776.62" cy="533.45" r="1.78" fill="#000"/>
<circle cx="777.34" cy="551.36" r="1.78" fill="#000"/>
<circle cx="779.51" cy="513.37" r="1.78" fill="#000"/>
<circle cx="780.60" cy="522.23" r="1.78" fill="#000"/>
<circle cx="782.41" cy="541.41" r="1.78" fill="#000"/>
<circle cx="783.49" cy="519.34" r="1.78" fill="#000"/>
<circle cx="784.58" cy="539.42" r="1.78" fill="#000"/>
<circle cx="785.66" cy="519.34" r="1.78" fill="#000"/>
<circle cx="787.47" cy="518.25" r="1.78" fill="#000"/>
<circle cx="789.28" cy="544.31" r="1.78" fill="#000"/>
<circle cx="790.37" cy="548.47" r="1.78" fill="#000"/>
<circle cx="792.54" cy="554.44" r="1.78" fill="#000"/>
<circle cx="793.26" cy="562.40" r="1.78" fill="#000"/>
<circle cx="795.43" cy="540.33" r="1.78" fill="#000"/>
<circle cx="796.52" cy="551.36" r="1.78" fill="#000"/>
<circle cx="798.33" cy="518.25" r="1.78" fill="#000"/>
<circle cx="799.41" cy="546.30" r="1.78" fill="#000"/>
<circle cx="801.59" cy="548.47" r="1.78" fill="#000"/>
<circle cx="802.31" cy="559.32" r="1.78" fill="#000"/>
<circle cx="804.48" cy="545.39" r="1.78" fill="#000"/>
<circle cx="807.38" cy="532.36" r="1.78" fill="#000"/>
<circle cx="808.46" cy="538.34" r="1.78" fill="#000"/>
<circle cx="810.27" cy="544.31" r="1.78" fill="#000"/>
<circle cx="811.36" cy="550.46" r="1.78" fill="#000"/>
<circle cx="813.17" cy="514.27" r="1.78" fill="#000"/>
<circle cx="814.25" cy="509.38" r="1.78" fill="#000"/>
<circle cx="816.42" cy="517.35" r="1.78" fill="#000"/>
<circle cx="817.51" cy="522.23" r="1.78" fill="#000"/>
<circle cx="819.32" cy="516.44" r="1.78" fill="#000"/>
<circle cx="820.40" cy="541.41" r="1.78" fill="#000"/>
<circle cx="822.58" cy="517.35" r="1.78" fill="#000"/>
<circle cx="823.30" cy="533.45" r="1.78" fill="#000"/>
<circle cx="825.47" cy="513.37" r="1.78" fill="#000"/>
<circle cx="826.56" cy="518.25" r="1.78" fill="#000"/>
<circle cx="828.37" cy="509.38" r="1.78" fill="#000"/>
<circle cx="829.45" cy="557.33" r="1.78" fill="#000"/>
<circle cx="831.62" cy="510.29" r="1.78" fill="#000"/>
<circle cx="832.71" cy="529.47" r="1.78" fill="#000"/>
<circle cx="834.52" cy="547.38" r="1.78" fill="#000"/>
<circle cx="835.60" cy="548.47" r="1.78" fill="#000"/>
<circle cx="837.41" cy="545.39" r="1.78" fill="#000"/>
<circle cx="838.50" cy="585.38" r="1.78" fill="#000"/>
<circle cx="840.31" cy="572.35" r="1.78" fill="#000"/>
<circle cx="841.39" cy="553.35" r="1.78" fill="#000"/>
<circle cx="843.56" cy="537.43" r="1.78" fill="#000"/>
<circle cx="844.65" cy="513.37" r="1.78" fill="#000"/>
<circle cx="846.46" cy="517.35" r="1.78" fill="#000"/>
<circle cx="847.55" cy="525.49" r="1.78" fill="#000"/>
<circle cx="849.35" cy="562.40" r="1.78" fill="#000"/>
<circle cx="850.44" cy="532.36" r="1.78" fill="#000"/>
<circle cx="851.53" cy="544.31" r="1.78" fill="#000"/>
<circle cx="853.34" cy="548.47" r="1.78" fill="#000"/>
<circle cx="854.42" cy="539.42" r="1.78" fill="#000"/>
<circle cx="856.59" cy="531.46" r="1.78" fill="#000"/>
<circle cx="857.68" cy="499.25" r="1.78" fill="#000"/>
<circle cx="859.49" cy="517.35" r="1.78" fill="#000"/>
<circle cx="860.57" cy="549.37" r="1.78" fill="#000"/>
<circle cx="862.38" cy="511.38" r="1.78" fill="#000"/>
<circle cx="863.47" cy="531.46" r="1.78" fill="#000"/>
<circle cx="865.64" cy="539.42" r="1.78" fill="#000"/>
<circle cx="866.72" cy="526.39" r="1.78" fill="#000"/>
<circle cx="868.53" cy="521.33" r="1.78" fill="#000"/>
<circle cx="869.62" cy="546.30" r="1.78" fill="#000"/>
<circle cx="871.43" cy="532.36" r="1.78" fill="#000"/>
<circle cx="872.52" cy="539.42" r="1.78" fill="#000"/>
<circle cx="874.32" cy="556.25" r="1.78" fill="#000"/>
<circle cx="875.41" cy="514.27" r="1.78" fill="#000"/>
<circle cx="877.58" cy="528.38" r="1.78" fill="#000"/>
<circle cx="878.67" cy="574.34" r="1.78" fill="#000"/>
<circle cx="880.48" cy="551.36" r="1.78" fill="#000"/>
<circle cx="881.56" cy="570.36" r="1.78" fill="#000"/>
<circle cx="883.37" cy="562.40" r="1.78" fill="#000"/>
<circle cx="884.10" cy="545.39" r="1.78" fill="#000"/>
<circle cx="886.51" cy="570.36" r="1.78" fill="#000"/>
<circle cx="887.24" cy="534.35" r="1.78" fill="#000"/>
<circle cx="889.41" cy="515.36" r="1.78" fill="#000"/>
<circle cx="890.49" cy="506.31" r="1.78" fill="#000"/>
<circle cx="892.30" cy="493.28" r="1.78" fill="#000"/>
<circle cx="893.39" cy="502.33" r="1.78" fill="#000"/>
<circle cx="895.56" cy="486.41" r="1.78" fill="#000"/>
<circle cx="896.28" cy="529.47" r="1.78" fill="#000"/>
<circle cx="898.46" cy="544.31" r="1.78" fill="#000"/>
<circle cx="899.54" cy="544.31" r="1.78" fill="#000"/>
<circle cx="901.35" cy="552.45" r="1.78" fill="#000"/>
<circle cx="902.44" cy="543.40" r="1.78" fill="#000"/>
<circle cx="904.25" cy="550.46" r="1.78" fill="#000"/>
<circle cx="905.33" cy="547.38" r="1.78" fill="#000"/>
<circle cx="907.14" cy="565.30" r="1.78" fill="#000"/>
<circle cx="908.23" cy="570.36" r="1.78" fill="#000"/>
<circle cx="910.40" cy="553.35" r="1.78" fill="#000"/>
<circle cx="911.48" cy="545.39" r="1.78" fill="#000"/>
<circle cx="913.29" cy="552.45" r="1.78" fill="#000"/>
<circle cx="914.38" cy="545.39" r="1.78" fill="#000"/>
<circle cx="915.46" cy="520.42" r="1.78" fill="#000"/>
<circle cx="917.27" cy="551.36" r="1.78" fill="#000"/>
<circle cx="918.36" cy="522.23" r="1.78" fill="#000"/>
<circle cx="920.53" cy="541.41" r="1.78" fill="#000"/>
<circle cx="921.62" cy="506.31" r="1.78" fill="#000"/>
<circle cx="923.43" cy="543.40" r="1.78" fill="#000"/>
<circle cx="924.51" cy="511.38" r="1.78" fill="#000"/>
<circle cx="926.32" cy="539.42" r="1.78" fill="#000"/>
<circle cx="927.41" cy="497.26" r="1.78" fill="#000"/>
<circle cx="929.58" cy="484.41" r="1.78" fill="#000"/>
<circle cx="930.30" cy="492.38" r="1.78" fill="#000"/>
<circle cx="932.47" cy="520.42" r="1.78" fill="#000"/>
<circle cx="933.56" cy="519.34" r="1.78" fill="#000"/>
<circle cx="935.37" cy="520.42" r="1.78" fill="#000"/>
<circle cx="936.45" cy="525.49" r="1.78" fill="#000"/>
<circle cx="938.26" cy="533.45" r="1.78" fill="#000"/>
<circle cx="939.35" cy="498.35" r="1.78" fill="#000"/>
<circle cx="941.52" cy="528.38" r="1.78" fill="#000"/>
<circle cx="942.61" cy="498.35" r="1.78" fill="#000"/>
<circle cx="944.41" cy="541.41" r="1.78" fill="#000"/>
<circle cx="945.50" cy="524.40" r="1.78" fill="#000"/>
<circle cx="947.31" cy="530.37" r="1.78" fill="#000"/>
<circle cx="948.40" cy="571.27" r="1.78" fill="#000"/>
<circle cx="950.57" cy="518.25" r="1.78" fill="#000"/>
<circle cx="951.65" cy="537.43" r="1.78" fill="#000"/>
<circle cx="953.46" cy="535.44" r="1.78" fill="#000"/>
<circle cx="954.55" cy="509.38" r="1.78" fill="#000"/>
<circle cx="956.36" cy="516.44" r="1.78" fill="#000"/>
<circle cx="957.44" cy="503.23" r="1.78" fill="#000"/>
<circle cx="959.25" cy="536.34" r="1.78" fill="#000"/>
<circle cx="960.34" cy="520.42" r="1.78" fill="#000"/>
<circle cx="963.23" cy="516.44" r="1.78" fill="#000"/>
<circle cx="966.49" cy="498.35" r="1.78" fill="#000"/>
<circle cx="968.30" cy="538.34" r="1.78" fill="#000"/>
<circle cx="969.38" cy="539.42" r="1.78" fill="#000"/>
<circle cx="971.19" cy="498.35" r="1.78" fill="#000"/>
<circle cx="972.28" cy="488.40" r="1.78" fill="#000"/>
<circle cx="974.09" cy="487.31" r="1.78" fill="#000"/>
<circle cx="975.54" cy="493.28" r="1.78" fill="#000"/>
<circle cx="977.71" cy="488.40" r="1.78" fill="#000"/>
<circle cx="978.43" cy="476.27" r="1.78" fill="#000"/>
<circle cx="980.60" cy="503.23" r="1.78" fill="#000"/>
<circle cx="981.33" cy="501.24" r="1.78" fill="#000"/>
<circle cx="982.41" cy="473.38" r="1.78" fill="#000"/>
<circle cx="984.58" cy="513.37" r="1.78" fill="#000"/>
<circle cx="985.67" cy="499.25" r="1.78" fill="#000"/>
<circle cx="987.48" cy="513.37" r="1.78" fill="#000"/>
<circle cx="988.56" cy="517.35" r="1.78" fill="#000"/>
<circle cx="990.37" cy="501.24" r="1.78" fill="#000"/>
<circle cx="991.46" cy="525.49" r="1.78" fill="#000"/>
<circle cx="993.27" cy="551.36" r="1.78" fill="#000"/>
<circle cx="994.35" cy="551.36" r="1.78" fill="#000"/>
<circle cx="996.53" cy="530.37" r="1.78" fill="#000"/>
<circle cx="997.61" cy="542.32" r="1.78" fill="#000"/>
<circle cx="999.42" cy="530.37" r="1.78" fill="#000"/>
<circle cx="1000.51" cy="539.42" r="1.78" fill="#000"/>
<circle cx="1002.68" cy="543.40" r="1.78" fill="#000"/>
<circle cx="1003.76" cy="530.37" r="1.78" fill="#000"/>
<circle cx="1005.57" cy="504.32" r="1.78" fill="#000"/>
<circle cx="1006.66" cy="509.38" r="1.78" fill="#000"/>
<circle cx="1008.47" cy="498.35" r="1.78" fill="#000"/>
<circle cx="1009.55" cy="494.37" r="1.78" fill="#000"/>
<circle cx="1011.36" cy="518.25" r="1.78" fill="#000"/>
<circle cx="1012.45" cy="504.32" r="1.78" fill="#000"/>
<circle cx="1014.26" cy="552.45" r="1.78" fill="#000"/>
<circle cx="1015.34" cy="515.36" r="1.78" fill="#000"/>
<circle cx="1017.52" cy="529.47" r="1.78" fill="#000"/>
<circle cx="1018.60" cy="548.47" r="1.78" fill="#000"/>
<circle cx="1020.41" cy="533.45" r="1.78" fill="#000"/>
<circle cx="1021.50" cy="556.25" r="1.78" fill="#000"/>
<circle cx="1023.67" cy="561.31" r="1.78" fill="#000"/>
<circle cx="1024.39" cy="558.42" r="1.78" fill="#000"/>
<circle cx="1026.56" cy="564.39" r="1.78" fill="#000"/>
<circle cx="1027.65" cy="526.39" r="1.78" fill="#000"/>
<circle cx="1028.73" cy="505.22" r="1.78" fill="#000"/>
<circle cx="1029.46" cy="547.38" r="1.78" fill="#000"/>
<circle cx="1032.24" cy="522.23" r="1.78" fill="#000"/>
<circle cx="1033.32" cy="511.38" r="1.78" fill="#000"/>
<circle cx="1035.49" cy="506.31" r="1.78" fill="#000"/>
<circle cx="1036.58" cy="486.41" r="1.78" fill="#000"/>
<circle cx="1038.39" cy="508.30" r="1.78" fill="#000"/>
<circle cx="1039.48" cy="463.43" r="1.78" fill="#000"/>
<circle cx="1041.28" cy="501.24" r="1.78" fill="#000"/>
<circle cx="1042.37" cy="471.39" r="1.78" fill="#000"/>
<circle cx="1044.54" cy="511.38" r="1.78" fill="#000"/>
<circle cx="1045.27" cy="524.40" r="1.78" fill="#000"/>
<circle cx="1047.44" cy="531.46" r="1.78" fill="#000"/>
<circle cx="1049.25" cy="535.44" r="1.78" fill="#000"/>
<circle cx="1051.42" cy="520.42" r="1.78" fill="#000"/>
<circle cx="1052.50" cy="545.39" r="1.78" fill="#000"/>
<circle cx="1054.31" cy="520.42" r="1.78" fill="#000"/>
<circle cx="1055.40" cy="525.49" r="1.78" fill="#000"/>
<circle cx="1057.21" cy="526.39" r="1.78" fill="#000"/>
<circle cx="1058.29" cy="522.23" r="1.78" fill="#000"/>
<circle cx="1060.46" cy="547.38" r="1.78" fill="#000"/>
<circle cx="1061.55" cy="541.41" r="1.78" fill="#000"/>
<circle cx="1063.36" cy="522.23" r="1.78" fill="#000"/>
<circle cx="1064.45" cy="538.34" r="1.78" fill="#000"/>
<circle cx="1066.25" cy="532.36" r="1.78" fill="#000"/>
<circle cx="1067.34" cy="540.33" r="1.78" fill="#000"/>
<circle cx="1069.15" cy="531.46" r="1.78" fill="#000"/>
<circle cx="1070.24" cy="511.38" r="1.78" fill="#000"/>
<circle cx="1072.41" cy="514.27" r="1.78" fill="#000"/>
<circle cx="1073.49" cy="492.38" r="1.78" fill="#000"/>
<circle cx="1075.30" cy="503.23" r="1.78" fill="#000"/>
<circle cx="1076.39" cy="553.35" r="1.78" fill="#000"/>
<circle cx="1078.56" cy="517.35" r="1.78" fill="#000"/>
<circle cx="1079.28" cy="524.40" r="1.78" fill="#000"/>
<circle cx="1081.45" cy="492.38" r="1.78" fill="#000"/>
<circle cx="1082.54" cy="499.25" r="1.78" fill="#000"/>
<circle cx="1084.35" cy="507.39" r="1.78" fill="#000"/>
<circle cx="1085.43" cy="508.30" r="1.78" fill="#000"/>
<circle cx="1087.61" cy="534.35" r="1.78" fill="#000"/>
<circle cx="1088.33" cy="563.31" r="1.78" fill="#000"/>
<circle cx="1091.59" cy="515.36" r="1.78" fill="#000"/>
<circle cx="1093.40" cy="520.42" r="1.78" fill="#000"/>
<circle cx="1094.48" cy="531.46" r="1.78" fill="#000"/>
<circle cx="1096.65" cy="538.34" r="1.78" fill="#000"/>
<circle cx="1097.38" cy="515.36" r="1.78" fill="#000"/>
<circle cx="1099.55" cy="559.32" r="1.78" fill="#000"/>
<circle cx="1100.63" cy="541.41" r="1.78" fill="#000"/>
<circle cx="1102.44" cy="555.34" r="1.78" fill="#000"/>
<circle cx="1103.53" cy="555.34" r="1.78" fill="#000"/>
<circle cx="1105.34" cy="553.35" r="1.78" fill="#000"/>
<circle cx="1106.42" cy="517.35" r="1.78" fill="#000"/>
<circle cx="1108.23" cy="544.49" r="1.78" fill="#000"/>
<circle cx="1109.32" cy="545.39" r="1.78" fill="#000"/>
<circle cx="1110.77" cy="527.48" r="1.78" fill="#000"/>
<circle cx="1112.58" cy="527.48" r="1.78" fill="#000"/>
<circle cx="1113.30" cy="520.42" r="1.78" fill="#000"/>
<circle cx="1115.47" cy="545.39" r="1.78" fill="#000"/>
<circle cx="1116.56" cy="510.29" r="1.78" fill="#000"/>
<circle cx="1118.37" cy="484.41" r="1.78" fill="#000"/>
<circle cx="1119.45" cy="510.29" r="1.78" fill="#000"/>
<circle cx="1121.62" cy="504.32" r="1.78" fill="#000"/>
<circle cx="1122.71" cy="525.49" r="1.78" fill="#000"/>
<circle cx="1124.52" cy="475.37" r="1.78" fill="#000"/>
<circle cx="1125.60" cy="540.33" r="1.78" fill="#000"/>
<circle cx="1127.41" cy="528.38" r="1.78" fill="#000"/>
<circle cx="1128.50" cy="534.35" r="1.78" fill="#000"/>
<circle cx="1130.31" cy="532.36" r="1.78" fill="#000"/>
<circle cx="1131.39" cy="521.33" r="1.78" fill="#000"/>
<circle cx="1133.56" cy="558.42" r="1.78" fill="#000"/>
<circle cx="1134.65" cy="554.44" r="1.78" fill="#000"/>
<circle cx="1136.46" cy="512.28" r="1.78" fill="#000"/>
<circle cx="1137.55" cy="538.34" r="1.78" fill="#000"/>
<circle cx="1139.35" cy="580.31" r="1.78" fill="#000"/>
<circle cx="1140.44" cy="533.45" r="1.78" fill="#000"/>
<circle cx="1143.34" cy="527.48" r="1.78" fill="#000"/>
<circle cx="1145.51" cy="508.30" r="1.78" fill="#000"/>
<circle cx="1146.59" cy="489.30" r="1.78" fill="#000"/>
<circle cx="1148.76" cy="508.30" r="1.78" fill="#000"/>
<circle cx="1149.85" cy="510.29" r="1.78" fill="#000"/>
<circle cx="1151.66" cy="483.33" r="1.78" fill="#000"/>
<circle cx="1152.74" cy="501.24" r="1.78" fill="#000"/>
<circle cx="1154.55" cy="495.27" r="1.78" fill="#000"/>
<circle cx="1155.64" cy="497.26" r="1.78" fill="#000"/>
<circle cx="1157.45" cy="549.37" r="1.78" fill="#000"/>
<circle cx="1158.53" cy="538.34" r="1.78" fill="#000"/>
<circle cx="1160.34" cy="542.32" r="1.78" fill="#000"/>
<circle cx="1161.43" cy="580.31" r="1.78" fill="#000"/>
<circle cx="1163.60" cy="541.41" r="1.78" fill="#000"/>
<circle cx="1164.32" cy="557.33" r="1.78" fill="#000"/>
<circle cx="1166.50" cy="548.47" r="1.78" fill="#000"/>
<circle cx="1169.39" cy="525.49" r="1.78" fill="#000"/>
<circle cx="1170.48" cy="507.39" r="1.78" fill="#000"/>
<circle cx="1172.65" cy="506.31" r="1.78" fill="#000"/>
<circle cx="1173.73" cy="521.33" r="1.78" fill="#000"/>
<circle cx="1175.43" cy="490.39" r="1.78" fill="#000"/>
<circle cx="1176.51" cy="473.38" r="1.78" fill="#000"/>
<circle cx="1179.41" cy="509.38" r="1.78" fill="#000"/>
<circle cx="1180.49" cy="497.26" r="1.78" fill="#000"/>
<circle cx="1182.30" cy="488.40" r="1.78" fill="#000"/>
<circle cx="1183.39" cy="469.40" r="1.78" fill="#000"/>
<circle cx="1185.56" cy="493.28" r="1.78" fill="#000"/>
<circle cx="1186.28" cy="472.29" r="1.78" fill="#000"/>
<circle cx="1188.46" cy="480.25" r="1.78" fill="#000"/>
<circle cx="1189.54" cy="478.26" r="1.78" fill="#000"/>
<circle cx="1191.35" cy="515.36" r="1.78" fill="#000"/>
<circle cx="1192.44" cy="485.32" r="1.78" fill="#000"/>
<circle cx="1194.25" cy="485.32" r="1.78" fill="#000"/>
<circle cx="1195.33" cy="463.43" r="1.78" fill="#000"/>
<circle cx="1197.50" cy="507.39" r="1.78" fill="#000"/>
<circle cx="1198.59" cy="518.25" r="1.78" fill="#000"/>
<circle cx="1200.40" cy="492.38" r="1.78" fill="#000"/>
<circle cx="1201.48" cy="505.22" r="1.78" fill="#000"/>
<circle cx="1203.66" cy="481.34" r="1.78" fill="#000"/>
<circle cx="1204.38" cy="520.42" r="1.78" fill="#000"/>
<circle cx="1206.55" cy="518.25" r="1.78" fill="#000"/>
<circle cx="1207.27" cy="528.38" r="1.78" fill="#000"/>
<circle cx="1209.45" cy="528.38" r="1.78" fill="#000"/>
<circle cx="1210.53" cy="506.31" r="1.78" fill="#000"/>
<circle cx="1212.34" cy="552.45" r="1.78" fill="#000"/>
<circle cx="1213.43" cy="521.33" r="1.78" fill="#000"/>
<circle cx="1215.24" cy="534.35" r="1.78" fill="#000"/>
<circle cx="1216.32" cy="532.36" r="1.78" fill="#000"/>
<circle cx="1218.49" cy="511.38" r="1.78" fill="#000"/>
<circle cx="1219.58" cy="535.44" r="1.78" fill="#000"/>
<circle cx="1221.39" cy="500.34" r="1.78" fill="#000"/>
<circle cx="1222.47" cy="531.46" r="1.78" fill="#000"/>
<circle cx="1224.28" cy="524.40" r="1.78" fill="#000"/>
<circle cx="1225.37" cy="535.44" r="1.78" fill="#000"/>
<circle cx="1227.54" cy="493.28" r="1.78" fill="#000"/>
<circle cx="1228.26" cy="534.35" r="1.78" fill="#000"/>
<circle cx="1230.43" cy="532.36" r="1.78" fill="#000"/>
<circle cx="1231.52" cy="499.25" r="1.78" fill="#000"/>
<circle cx="1233.33" cy="545.39" r="1.78" fill="#000"/>
<circle cx="1234.41" cy="502.33" r="1.78" fill="#000"/>
<circle cx="1236.59" cy="510.29" r="1.78" fill="#000"/>
<circle cx="1237.31" cy="470.30" r="1.78" fill="#000"/>
<circle cx="1239.48" cy="496.36" r="1.78" fill="#000"/>
<circle cx="1240.57" cy="479.35" r="1.78" fill="#000"/>
<circle cx="1242.38" cy="504.32" r="1.78" fill="#000"/>
<circle cx="1243.46" cy="525.49" r="1.78" fill="#000"/>
<circle cx="1244.55" cy="531.46" r="1.78" fill="#000"/>
<circle cx="1246.36" cy="502.33" r="1.78" fill="#000"/>
<circle cx="1247.44" cy="500.34" r="1.78" fill="#000"/>
<circle cx="1249.25" cy="518.25" r="1.78" fill="#000"/>
<circle cx="1250.34" cy="548.47" r="1.78" fill="#000"/>
<circle cx="1252.51" cy="548.47" r="1.78" fill="#000"/>
<circle cx="1253.23" cy="511.38" r="1.78" fill="#000"/>
<circle cx="1255.40" cy="488.40" r="1.78" fill="#000"/>
<circle cx="1256.49" cy="554.44" r="1.78" fill="#000"/>
<circle cx="1258.30" cy="509.38" r="1.78" fill="#000"/>
<circle cx="1259.38" cy="547.38" r="1.78" fill="#000"/>
<circle cx="1261.56" cy="558.42" r="1.78" fill="#000"/>
<circle cx="1262.28" cy="525.49" r="1.78" fill="#000"/>
<circle cx="1264.45" cy="512.28" r="1.78" fill="#000"/>
<circle cx="1265.54" cy="517.35" r="1.78" fill="#000"/>
<circle cx="1267.35" cy="536.34" r="1.78" fill="#000"/>
<circle cx="1268.43" cy="557.33" r="1.78" fill="#000"/>
<circle cx="1270.60" cy="537.43" r="1.78" fill="#000"/>
<circle cx="1271.33" cy="558.42" r="1.78" fill="#000"/>
<circle cx="1273.50" cy="529.47" r="1.78" fill="#000"/>
<circle cx="1274.58" cy="528.38" r="1.78" fill="#000"/>
<circle cx="1276.39" cy="520.42" r="1.78" fill="#000"/>
<circle cx="1277.48" cy="519.34" r="1.78" fill="#000"/>
<circle cx="1279.29" cy="545.39" r="1.78" fill="#000"/>
<circle cx="1280.37" cy="559.32" r="1.78" fill="#000"/>
<circle cx="1282.55" cy="568.37" r="1.78" fill="#000"/>
<circle cx="1283.63" cy="526.39" r="1.78" fill="#000"/>
<circle cx="1285.44" cy="541.41" r="1.78" fill="#000"/>
<circle cx="1286.53" cy="531.46" r="1.78" fill="#000"/>
<circle cx="1288.34" cy="528.38" r="1.78" fill="#000"/>
<circle cx="1289.42" cy="485.32" r="1.78" fill="#000"/>
<circle cx="1291.59" cy="533.45" r="1.78" fill="#000"/>
<circle cx="1292.68" cy="461.44" r="1.78" fill="#000"/>
<circle cx="1294.49" cy="493.28" r="1.78" fill="#000"/>
<circle cx="1295.57" cy="528.38" r="1.78" fill="#000"/>
<circle cx="1297.74" cy="486.41" r="1.78" fill="#000"/>
<circle cx="1298.47" cy="507.39" r="1.78" fill="#000"/>
<circle cx="1300.64" cy="522.41" r="1.78" fill="#000"/>
<circle cx="1301.72" cy="497.26" r="1.78" fill="#000"/>
<circle cx="1303.53" cy="503.23" r="1.78" fill="#000"/>
<circle cx="162.24" cy="426.51" r="1.78" fill="#ffa500"/>
<circle cx="164.41" cy="428.32" r="1.78" fill="#ffa500"/>
<circle cx="167.30" cy="439.36" r="1.78" fill="#ffa500"/>
<circle cx="171.28" cy="443.52" r="1.78" fill="#ffa500"/>
<circle cx="165.49" cy="451.48" r="1.78" fill="#ffa500"/>
<circle cx="168.39" cy="452.57" r="1.78" fill="#ffa500"/>
<circle cx="463.09" cy="456.37" r="1.78" fill="#ffa500"/>
<circle cx="548.50" cy="606.37" r="1.78" fill="#ffa500"/>
<circle cx="1178.32" cy="448.41" r="1.78" fill="#ffa500"/>
<circle cx="805.50" cy="620.00" r="1.78" fill="#ffa500"/>
<circle cx="1090.00" cy="637.00" r="1.78" fill="#ffa500"/>
<path d="M188.30,660.20 L194.30,660.20 L191.30,665.40 Z" fill="#ffa500"/>
<path d="M962.00,660.20 L968.00,660.20 L965.00,665.40 Z" fill="#ffa500"/>
<rect x="105.50" y="499.0" width="1255.50" height="48.7" fill="#ff0000" fill-opacity="0.1" stroke="#ff0000" stroke-opacity="0.1" stroke-width="1.11"/>
<rect x="162.00" y="497.0" width="1142.20" height="52.7" fill="#ffa500" fill-opacity="0.1" stroke="#ffa500" stroke-opacity="0.1" stroke-width="1.11"/>
<line x1="162.00" y1="524.20" x2="1304.20" y2="524.20" stroke="#ffa500" stroke-width="2.78"/>
<line x1="105.50" y1="522.90" x2="1361.00" y2="522.90" stroke="#ff0000" stroke-width="2.08"/>
</g>
<line x1="162.00" y1="666.50" x2="162.00" y2="380.50" stroke="#800080" stroke-width="2.08" stroke-dasharray="2.08 3.44"/>
<line x1="1303.00" y1="666.50" x2="1303.00" y2="380.50" stroke="#800080" stroke-width="2.08" stroke-dasharray="2.08 3.44"/>
<line x1="104.95" y1="380.50" x2="1486.05" y2="380.50" stroke="#000" stroke-width="1.11"/>
<line x1="104.95" y1="666.50" x2="1486.05" y2="666.50" stroke="#000" stroke-width="1.11"/>
<line x1="105.50" y1="379.95" x2="105.50" y2="667.05" stroke="#000" stroke-width="1.11"/>
<line x1="1485.50" y1="379.95" x2="1485.50" y2="667.05" stroke="#000" stroke-width="1.11"/>
<line x1="162.30" y1="666.50" x2="162.30" y2="671.36" stroke="#000" stroke-width="1.11"/>
<text x="159.53" y="686.90" font-size="13.889" textLength="7.94" lengthAdjust="spacingAndGlyphs">0</text>
<line x1="460.08" y1="666.50" x2="460.08" y2="671.36" stroke="#000" stroke-width="1.11"/>
<text x="446.81" y="686.90" font-size="13.889" textLength="26.53" lengthAdjust="spacingAndGlyphs">200</text>
<line x1="757.86" y1="666.50" x2="757.86" y2="671.36" stroke="#000" stroke-width="1.11"/>
<text x="744.59" y="686.90" font-size="13.889" textLength="26.53" lengthAdjust="spacingAndGlyphs">400</text>
<line x1="1055.64" y1="666.50" x2="1055.64" y2="671.36" stroke="#000" stroke-width="1.11"/>
<text x="1042.37" y="686.90" font-size="13.889" textLength="26.53" lengthAdjust="spacingAndGlyphs">600</text>
<line x1="1353.42" y1="666.50" x2="1353.42" y2="671.36" stroke="#000" stroke-width="1.11"/>
<text x="1340.15" y="686.90" font-size="13.889" textLength="26.53" lengthAdjust="spacingAndGlyphs">800</text>
<line x1="100.64" y1="645.50" x2="105.50" y2="645.50" stroke="#000" stroke-width="1.11"/>
<text x="65.13" y="649.80" font-size="13.889" textLength="30.95" lengthAdjust="spacingAndGlyphs">8.28</text>
<line x1="100.64" y1="609.50" x2="105.50" y2="609.50" stroke="#000" stroke-width="1.11"/>
<text x="65.13" y="613.80" font-size="13.889" textLength="30.95" lengthAdjust="spacingAndGlyphs">8.29</text>
<line x1="100.64" y1="573.50" x2="105.50" y2="573.50" stroke="#000" stroke-width="1.11"/>
<text x="65.13" y="577.80" font-size="13.889" textLength="30.95" lengthAdjust="spacingAndGlyphs">8.30</text>
<line x1="100.64" y1="537.50" x2="105.50" y2="537.50" stroke="#000" stroke-width="1.11"/>
<text x="65.13" y="541.80" font-size="13.889" textLength="30.95" lengthAdjust="spacingAndGlyphs">8.31</text>
<line x1="100.64" y1="501.50" x2="105.50" y2="501.50" stroke="#000" stroke-width="1.11"/>
<text x="65.13" y="505.80" font-size="13.889" textLength="30.95" lengthAdjust="spacingAndGlyphs">8.32</text>
<line x1="100.64" y1="465.50" x2="105.50" y2="465.50" stroke="#000" stroke-width="1.11"/>
<text x="65.13" y="469.80" font-size="13.889" textLength="30.95" lengthAdjust="spacingAndGlyphs">8.33</text>
<line x1="100.64" y1="429.50" x2="105.50" y2="429.50" stroke="#000" stroke-width="1.11"/>
<text x="65.13" y="433.80" font-size="13.889" textLength="30.95" lengthAdjust="spacingAndGlyphs">8.34</text>
<line x1="100.64" y1="393.50" x2="105.50" y2="393.50" stroke="#000" stroke-width="1.11"/>
<text x="65.13" y="397.80" font-size="13.889" textLength="30.95" lengthAdjust="spacingAndGlyphs">8.35</text>
<text x="707.54" y="371.70" font-size="16.667" textLength="175.72" lengthAdjust="spacingAndGlyphs">Magnitude Estimates</text>
<text x="709.59" y="657.00" font-size="13.889" textLength="44.22" lengthAdjust="spacingAndGlyphs">50959</text>
<rect x="1365.60" y="387.80" width="112.70" height="47.30" rx="2.8" ry="2.8" fill="#fff" fill-opacity="0.8" stroke="#cccccc" stroke-width="1.11"/>
<line x1="1369.10" y1="399.40" x2="1399.90" y2="399.40" stroke="#ffa500" stroke-width="2.78"/>
<line x1="1369.10" y1="421.80" x2="1399.90" y2="421.80" stroke="#ff0000" stroke-width="2.08"/>
<text x="1409.30" y="403.90" font-size="13.889" textLength="30.88" lengthAdjust="spacingAndGlyphs">mag</text>
<text x="1439.60" y="406.40" font-size="10.200" font-style="italic" textLength="32.00" lengthAdjust="spacingAndGlyphs">OBSID</text>
<text x="1409.00" y="426.50" font-size="13.889" textLength="30.88" lengthAdjust="spacingAndGlyphs">mag</text>
<rect x="1348.40" y="613.60" width="130.10" height="45.60" rx="2.8" ry="2.8" fill="#fff" fill-opacity="0.8" stroke="#cccccc" stroke-width="1.11"/>
<circle cx="1367.40" cy="626.40" r="1.6" fill="#ffa500"/>
<circle cx="1367.40" cy="647.40" r="1.6" fill="#000"/>
<text x="1393.00" y="629.90" font-size="13.889" textLength="80.13" lengthAdjust="spacingAndGlyphs">Highlighted</text>
<text x="1393.00" y="650.90" font-size="13.889" textLength="20.06" lengthAdjust="spacingAndGlyphs">OK</text>
<line x1="105.50" y1="921.30" x2="1485.50" y2="921.30" stroke="#a8a8a8" stroke-width="1.1112" stroke-dasharray="1.11 1.83"/>
<line x1="100.64" y1="921.30" x2="105.50" y2="921.30" stroke="#000" stroke-width="1.11"/>
<text x="13.77" y="926.70" font-size="13.889" textLength="81.71" lengthAdjust="spacingAndGlyphs">OBS not OK</text>
<line x1="105.50" y1="889.30" x2="1485.50" y2="889.30" stroke="#a8a8a8" stroke-width="1.1112" stroke-dasharray="1.11 1.83"/>
<line x1="100.64" y1="889.30" x2="105.50" y2="889.30" stroke="#000" stroke-width="1.11"/>
<text x="50.61" y="894.00" font-size="13.889" textLength="44.87" lengthAdjust="spacingAndGlyphs">dr &gt; 5</text>
<line x1="105.50" y1="856.30" x2="1485.50" y2="856.30" stroke="#a8a8a8" stroke-width="1.1112" stroke-dasharray="1.11 1.83"/>
<line x1="100.64" y1="856.30" x2="105.50" y2="856.30" stroke="#000" stroke-width="1.11"/>
<text x="36.76" y="861.70" font-size="13.889" textLength="58.73" lengthAdjust="spacingAndGlyphs">Ion. rad.</text>
<line x1="105.50" y1="823.30" x2="1485.50" y2="823.30" stroke="#a8a8a8" stroke-width="1.1112" stroke-dasharray="1.11 1.83"/>
<line x1="100.64" y1="823.30" x2="105.50" y2="823.30" stroke="#000" stroke-width="1.11"/>
<text x="25.54" y="829.00" font-size="13.889" textLength="69.94" lengthAdjust="spacingAndGlyphs">Sat. pixel.</text>
<line x1="105.50" y1="791.30" x2="1485.50" y2="791.30" stroke="#a8a8a8" stroke-width="1.1112" stroke-dasharray="1.11 1.83"/>
<line x1="100.64" y1="791.30" x2="105.50" y2="791.30" stroke="#000" stroke-width="1.11"/>
<text x="31.92" y="796.00" font-size="13.889" textLength="63.56" lengthAdjust="spacingAndGlyphs">not track</text>
<line x1="105.50" y1="758.30" x2="1485.50" y2="758.30" stroke="#a8a8a8" stroke-width="1.1112" stroke-dasharray="1.11 1.83"/>
<line x1="100.64" y1="758.30" x2="105.50" y2="758.30" stroke="#000" stroke-width="1.11"/>
<text x="15.18" y="764.00" font-size="13.889" textLength="80.30" lengthAdjust="spacingAndGlyphs">not Kalman</text>
<path d="M285.10,854.90 L288.30,856.50 L285.10,858.10 Z" fill="#000"/>
<path d="M285.10,887.60 L288.30,889.20 L285.10,890.80 Z" fill="#000"/>
<path d="M619.50,854.90 L622.70,856.50 L619.50,858.10 Z" fill="#000"/>
<path d="M619.50,887.60 L622.70,889.20 L619.50,890.80 Z" fill="#000"/>
<line x1="162.00" y1="954.50" x2="162.00" y2="725.50" stroke="#800080" stroke-width="2.08" stroke-dasharray="2.08 3.44"/>
<line x1="1303.00" y1="954.50" x2="1303.00" y2="725.50" stroke="#800080" stroke-width="2.08" stroke-dasharray="2.08 3.44"/>
<line x1="104.95" y1="725.50" x2="1486.05" y2="725.50" stroke="#000" stroke-width="1.11"/>
<line x1="105.50" y1="724.95" x2="105.50" y2="955.05" stroke="#000" stroke-width="1.11"/>
<line x1="1485.50" y1="724.95" x2="1485.50" y2="955.05" stroke="#000" stroke-width="1.11"/>
<line x1="105.50" y1="1009.30" x2="1485.50" y2="1009.30" stroke="#a8a8a8" stroke-width="1.1112" stroke-dasharray="1.11 1.83"/>
<line x1="100.64" y1="1009.30" x2="105.50" y2="1009.30" stroke="#000" stroke-width="1.11"/>
<text x="87.24" y="1014.30" font-size="13.889" textLength="8.84" lengthAdjust="spacingAndGlyphs">0</text>
<line x1="105.50" y1="983.20" x2="1485.50" y2="983.20" stroke="#a8a8a8" stroke-width="1.1112" stroke-dasharray="1.11 1.83"/>
<line x1="100.64" y1="983.20" x2="105.50" y2="983.20" stroke="#000" stroke-width="1.11"/>
<text x="87.24" y="988.20" font-size="13.889" textLength="8.84" lengthAdjust="spacingAndGlyphs">5</text>
<line x1="105.50" y1="957.10" x2="1485.50" y2="957.10" stroke="#a8a8a8" stroke-width="1.1112" stroke-dasharray="1.11 1.83"/>
<line x1="100.64" y1="957.10" x2="105.50" y2="957.10" stroke="#000" stroke-width="1.11"/>
<text x="78.39" y="962.10" font-size="13.889" textLength="17.69" lengthAdjust="spacingAndGlyphs">10</text>
<line x1="102.72" y1="996.25" x2="105.50" y2="996.25" stroke="#000" stroke-width="0.8334"/>
<line x1="102.72" y1="970.15" x2="105.50" y2="970.15" stroke="#000" stroke-width="0.8334"/>
<g clip-path="url(#c4)">
<circle cx="162.30" cy="1006.63" r="1.45" fill="#000"/>
<circle cx="165.25" cy="1005.76" r="1.45" fill="#000"/>
<circle cx="168.20" cy="1006.68" r="1.45" fill="#000"/>
<circle cx="171.15" cy="1005.66" r="1.45" fill="#000"/>
<circle cx="174.10" cy="1006.03" r="1.45" fill="#000"/>
<circle cx="177.05" cy="1005.89" r="1.45" fill="#000"/>
<circle cx="180.00" cy="1005.65" r="1.45" fill="#000"/>
<circle cx="182.95" cy="1006.01" r="1.45" fill="#000"/>
<circle cx="185.90" cy="1005.63" r="1.45" fill="#000"/>
<circle cx="188.85" cy="1005.95" r="1.45" fill="#000"/>
<circle cx="191.80" cy="1005.66" r="1.45" fill="#000"/>
<circle cx="194.75" cy="1005.67" r="1.45" fill="#000"/>
<circle cx="197.70" cy="1005.94" r="1.45" fill="#000"/>
<circle cx="200.65" cy="1006.26" r="1.45" fill="#000"/>
<circle cx="203.60" cy="1005.70" r="1.45" fill="#000"/>
<circle cx="206.55" cy="1005.78" r="1.45" fill="#000"/>
<circle cx="209.50" cy="1003.60" r="1.45" fill="#000"/>
<circle cx="212.45" cy="1004.36" r="1.45" fill="#000"/>
<circle cx="215.40" cy="1006.07" r="1.45" fill="#000"/>
<circle cx="218.35" cy="1005.95" r="1.45" fill="#000"/>
<circle cx="221.30" cy="1006.43" r="1.45" fill="#000"/>
<circle cx="224.25" cy="1005.71" r="1.45" fill="#000"/>
<circle cx="227.20" cy="1006.39" r="1.45" fill="#000"/>
<circle cx="230.15" cy="1005.96" r="1.45" fill="#000"/>
<circle cx="233.10" cy="1005.87" r="1.45" fill="#000"/>
<circle cx="236.05" cy="1005.87" r="1.45" fill="#000"/>
<circle cx="239.00" cy="1006.05" r="1.45" fill="#000"/>
<circle cx="241.95" cy="1006.25" r="1.45" fill="#000"/>
<circle cx="244.90" cy="1005.74" r="1.45" fill="#000"/>
<circle cx="247.85" cy="1006.07" r="1.45" fill="#000"/>
<circle cx="250.80" cy="1006.11" r="1.45" fill="#000"/>
<circle cx="253.75" cy="1005.90" r="1.45" fill="#000"/>
<circle cx="256.70" cy="1006.04" r="1.45" fill="#000"/>
<circle cx="259.65" cy="1007.15" r="1.45" fill="#000"/>
<circle cx="262.60" cy="1007.15" r="1.45" fill="#000"/>
<circle cx="265.55" cy="1007.26" r="1.45" fill="#000"/>
<circle cx="268.50" cy="1007.64" r="1.45" fill="#000"/>
<circle cx="271.45" cy="1006.44" r="1.45" fill="#000"/>
<circle cx="274.40" cy="1006.35" r="1.45" fill="#000"/>
<circle cx="277.35" cy="1006.57" r="1.45" fill="#000"/>
<circle cx="280.30" cy="1006.46" r="1.45" fill="#000"/>
<circle cx="283.25" cy="1006.34" r="1.45" fill="#000"/>
<circle cx="286.20" cy="1006.74" r="1.45" fill="#000"/>
<circle cx="289.15" cy="1006.66" r="1.45" fill="#000"/>
<circle cx="292.10" cy="1006.30" r="1.45" fill="#000"/>
<circle cx="295.05" cy="1006.51" r="1.45" fill="#000"/>
<circle cx="298.00" cy="1005.52" r="1.45" fill="#000"/>
<circle cx="300.95" cy="1005.80" r="1.45" fill="#000"/>
<circle cx="303.90" cy="1005.68" r="1.45" fill="#000"/>
<circle cx="306.85" cy="1005.33" r="1.45" fill="#000"/>
<circle cx="309.80" cy="1005.88" r="1.45" fill="#000"/>
<circle cx="312.75" cy="1005.19" r="1.45" fill="#000"/>
<circle cx="315.70" cy="1005.43" r="1.45" fill="#000"/>
<circle cx="318.65" cy="1005.71" r="1.45" fill="#000"/>
<circle cx="321.60" cy="1005.22" r="1.45" fill="#000"/>
<circle cx="324.55" cy="1006.49" r="1.45" fill="#000"/>
<circle cx="327.50" cy="1006.13" r="1.45" fill="#000"/>
<circle cx="330.45" cy="1006.63" r="1.45" fill="#000"/>
<circle cx="333.40" cy="1006.71" r="1.45" fill="#000"/>
<circle cx="336.35" cy="1007.56" r="1.45" fill="#000"/>
<circle cx="339.30" cy="1007.80" r="1.45" fill="#000"/>
<circle cx="342.25" cy="1007.35" r="1.45" fill="#000"/>
<circle cx="345.20" cy="1007.66" r="1.45" fill="#000"/>
<circle cx="348.15" cy="1007.65" r="1.45" fill="#000"/>
<circle cx="351.10" cy="1008.01" r="1.45" fill="#000"/>
<circle cx="354.05" cy="1007.46" r="1.45" fill="#000"/>
<circle cx="357.00" cy="1007.77" r="1.45" fill="#000"/>
<circle cx="359.95" cy="1007.86" r="1.45" fill="#000"/>
<circle cx="362.90" cy="1007.48" r="1.45" fill="#000"/>
<circle cx="365.85" cy="1007.63" r="1.45" fill="#000"/>
<circle cx="368.80" cy="1007.15" r="1.45" fill="#000"/>
<circle cx="371.75" cy="1007.36" r="1.45" fill="#000"/>
<circle cx="374.70" cy="1006.82" r="1.45" fill="#000"/>
<circle cx="377.65" cy="1006.59" r="1.45" fill="#000"/>
<circle cx="380.60" cy="1006.02" r="1.45" fill="#000"/>
<circle cx="383.55" cy="1005.40" r="1.45" fill="#000"/>
<circle cx="386.50" cy="1005.29" r="1.45" fill="#000"/>
<circle cx="389.45" cy="1005.32" r="1.45" fill="#000"/>
<circle cx="392.40" cy="1004.61" r="1.45" fill="#000"/>
<circle cx="395.35" cy="1004.77" r="1.45" fill="#000"/>
<circle cx="398.30" cy="1004.34" r="1.45" fill="#000"/>
<circle cx="401.25" cy="1003.96" r="1.45" fill="#000"/>
<circle cx="404.20" cy="1003.35" r="1.45" fill="#000"/>
<circle cx="407.15" cy="1003.36" r="1.45" fill="#000"/>
<circle cx="410.10" cy="1007.20" r="1.45" fill="#000"/>
<circle cx="413.05" cy="1007.30" r="1.45" fill="#000"/>
<circle cx="416.00" cy="1007.41" r="1.45" fill="#000"/>
<circle cx="418.95" cy="1007.80" r="1.45" fill="#000"/>
<circle cx="421.90" cy="1007.16" r="1.45" fill="#000"/>
<circle cx="424.85" cy="1007.46" r="1.45" fill="#000"/>
<circle cx="427.80" cy="1007.54" r="1.45" fill="#000"/>
<circle cx="430.75" cy="1006.68" r="1.45" fill="#000"/>
<circle cx="433.70" cy="1006.26" r="1.45" fill="#000"/>
<circle cx="436.65" cy="1006.94" r="1.45" fill="#000"/>
<circle cx="439.60" cy="1006.99" r="1.45" fill="#000"/>
<circle cx="442.55" cy="1007.28" r="1.45" fill="#000"/>
<circle cx="445.50" cy="1007.39" r="1.45" fill="#000"/>
<circle cx="448.45" cy="1007.81" r="1.45" fill="#000"/>
<circle cx="451.40" cy="1007.87" r="1.45" fill="#000"/>
<circle cx="454.35" cy="1007.22" r="1.45" fill="#000"/>
<circle cx="457.30" cy="1007.24" r="1.45" fill="#000"/>
<circle cx="460.25" cy="1007.29" r="1.45" fill="#000"/>
<circle cx="463.20" cy="1007.29" r="1.45" fill="#000"/>
<circle cx="466.15" cy="1007.49" r="1.45" fill="#000"/>
<circle cx="469.10" cy="1005.58" r="1.45" fill="#000"/>
<circle cx="472.05" cy="1005.69" r="1.45" fill="#000"/>
<circle cx="475.00" cy="1005.85" r="1.45" fill="#000"/>
<circle cx="477.95" cy="1006.55" r="1.45" fill="#000"/>
<circle cx="480.90" cy="1006.88" r="1.45" fill="#000"/>
<circle cx="483.85" cy="1007.41" r="1.45" fill="#000"/>
<circle cx="486.80" cy="1008.09" r="1.45" fill="#000"/>
<circle cx="489.75" cy="1004.33" r="1.45" fill="#000"/>
<circle cx="492.70" cy="1003.73" r="1.45" fill="#000"/>
<circle cx="495.65" cy="1003.35" r="1.45" fill="#000"/>
<circle cx="498.60" cy="1003.69" r="1.45" fill="#000"/>
<circle cx="501.55" cy="1003.58" r="1.45" fill="#000"/>
<circle cx="504.50" cy="1004.65" r="1.45" fill="#000"/>
<circle cx="507.45" cy="1004.95" r="1.45" fill="#000"/>
<circle cx="510.40" cy="1005.42" r="1.45" fill="#000"/>
<circle cx="513.35" cy="1005.75" r="1.45" fill="#000"/>
<circle cx="516.30" cy="1005.82" r="1.45" fill="#000"/>
<circle cx="519.25" cy="1006.22" r="1.45" fill="#000"/>
<circle cx="522.20" cy="1006.38" r="1.45" fill="#000"/>
<circle cx="525.15" cy="1007.19" r="1.45" fill="#000"/>
<circle cx="528.10" cy="1007.13" r="1.45" fill="#000"/>
<circle cx="531.05" cy="1007.53" r="1.45" fill="#000"/>
<circle cx="534.00" cy="1004.78" r="1.45" fill="#000"/>
<circle cx="536.95" cy="1004.77" r="1.45" fill="#000"/>
<circle cx="539.90" cy="1004.95" r="1.45" fill="#000"/>
<circle cx="542.85" cy="1004.75" r="1.45" fill="#000"/>
<circle cx="545.80" cy="1004.74" r="1.45" fill="#000"/>
<circle cx="548.75" cy="1004.90" r="1.45" fill="#000"/>
<circle cx="551.70" cy="1004.89" r="1.45" fill="#000"/>
<circle cx="554.65" cy="1005.13" r="1.45" fill="#000"/>
<circle cx="557.60" cy="1004.89" r="1.45" fill="#000"/>
<circle cx="560.55" cy="1005.54" r="1.45" fill="#000"/>
<circle cx="563.50" cy="1005.04" r="1.45" fill="#000"/>
<circle cx="566.45" cy="1004.37" r="1.45" fill="#000"/>
<circle cx="569.40" cy="1004.16" r="1.45" fill="#000"/>
<circle cx="572.35" cy="1005.18" r="1.45" fill="#000"/>
<circle cx="575.30" cy="1005.90" r="1.45" fill="#000"/>
<circle cx="578.25" cy="1005.72" r="1.45" fill="#000"/>
<circle cx="581.20" cy="1006.31" r="1.45" fill="#000"/>
<circle cx="584.15" cy="1006.44" r="1.45" fill="#000"/>
<circle cx="587.10" cy="1006.03" r="1.45" fill="#000"/>
<circle cx="590.05" cy="1006.06" r="1.45" fill="#000"/>
<circle cx="593.00" cy="1005.75" r="1.45" fill="#000"/>
<circle cx="595.95" cy="1005.78" r="1.45" fill="#000"/>
<circle cx="598.90" cy="1005.98" r="1.45" fill="#000"/>
<circle cx="601.85" cy="1005.93" r="1.45" fill="#000"/>
<circle cx="604.80" cy="1006.40" r="1.45" fill="#000"/>
<circle cx="607.75" cy="1005.88" r="1.45" fill="#000"/>
<circle cx="610.70" cy="1005.78" r="1.45" fill="#000"/>
<circle cx="613.65" cy="1006.53" r="1.45" fill="#000"/>
<circle cx="616.60" cy="1006.21" r="1.45" fill="#000"/>
<circle cx="619.55" cy="1005.92" r="1.45" fill="#000"/>
<circle cx="622.50" cy="1007.62" r="1.45" fill="#000"/>
<circle cx="625.45" cy="1006.97" r="1.45" fill="#000"/>
<circle cx="628.40" cy="1007.14" r="1.45" fill="#000"/>
<circle cx="631.35" cy="1007.27" r="1.45" fill="#000"/>
<circle cx="634.30" cy="1006.94" r="1.45" fill="#000"/>
<circle cx="637.25" cy="1006.58" r="1.45" fill="#000"/>
<circle cx="640.20" cy="1006.00" r="1.45" fill="#000"/>
<circle cx="643.15" cy="1005.85" r="1.45" fill="#000"/>
<circle cx="646.10" cy="1005.46" r="1.45" fill="#000"/>
<circle cx="649.05" cy="1005.71" r="1.45" fill="#000"/>
<circle cx="652.00" cy="1005.29" r="1.45" fill="#000"/>
<circle cx="654.95" cy="1005.25" r="1.45" fill="#000"/>
<circle cx="657.90" cy="1004.66" r="1.45" fill="#000"/>
<circle cx="660.85" cy="1004.34" r="1.45" fill="#000"/>
<circle cx="663.80" cy="1004.58" r="1.45" fill="#000"/>
<circle cx="666.75" cy="1004.49" r="1.45" fill="#000"/>
<circle cx="669.70" cy="1004.42" r="1.45" fill="#000"/>
<circle cx="672.65" cy="1004.62" r="1.45" fill="#000"/>
<circle cx="675.60" cy="1004.86" r="1.45" fill="#000"/>
<circle cx="678.55" cy="1005.04" r="1.45" fill="#000"/>
<circle cx="681.50" cy="1004.86" r="1.45" fill="#000"/>
<circle cx="684.45" cy="1005.33" r="1.45" fill="#000"/>
<circle cx="687.40" cy="1005.44" r="1.45" fill="#000"/>
<circle cx="690.35" cy="1005.41" r="1.45" fill="#000"/>
<circle cx="693.30" cy="1005.65" r="1.45" fill="#000"/>
<circle cx="696.25" cy="1006.08" r="1.45" fill="#000"/>
<circle cx="699.20" cy="1006.30" r="1.45" fill="#000"/>
<circle cx="702.15" cy="1006.89" r="1.45" fill="#000"/>
<circle cx="705.10" cy="1007.33" r="1.45" fill="#000"/>
<circle cx="708.05" cy="1007.16" r="1.45" fill="#000"/>
<circle cx="711.00" cy="1007.79" r="1.45" fill="#000"/>
<circle cx="713.95" cy="1008.07" r="1.45" fill="#000"/>
<circle cx="716.90" cy="1008.28" r="1.45" fill="#000"/>
<circle cx="719.85" cy="1004.19" r="1.45" fill="#000"/>
<circle cx="722.80" cy="1004.13" r="1.45" fill="#000"/>
<circle cx="725.75" cy="1004.50" r="1.45" fill="#000"/>
<circle cx="728.70" cy="1004.84" r="1.45" fill="#000"/>
<circle cx="731.65" cy="1005.22" r="1.45" fill="#000"/>
<circle cx="734.60" cy="1005.92" r="1.45" fill="#000"/>
<circle cx="737.55" cy="1006.51" r="1.45" fill="#000"/>
<circle cx="740.50" cy="1006.86" r="1.45" fill="#000"/>
<circle cx="743.45" cy="1006.98" r="1.45" fill="#000"/>
<circle cx="746.40" cy="1007.12" r="1.45" fill="#000"/>
<circle cx="749.35" cy="1007.24" r="1.45" fill="#000"/>
<circle cx="752.30" cy="1006.67" r="1.45" fill="#000"/>
<circle cx="755.25" cy="1006.88" r="1.45" fill="#000"/>
<circle cx="758.20" cy="1007.83" r="1.45" fill="#000"/>
<circle cx="761.15" cy="1007.73" r="1.45" fill="#000"/>
<circle cx="764.10" cy="1007.70" r="1.45" fill="#000"/>
<circle cx="767.05" cy="1007.48" r="1.45" fill="#000"/>
<circle cx="770.00" cy="1007.24" r="1.45" fill="#000"/>
<circle cx="772.95" cy="1007.73" r="1.45" fill="#000"/>
<circle cx="775.90" cy="1007.37" r="1.45" fill="#000"/>
<circle cx="778.85" cy="1007.58" r="1.45" fill="#000"/>
<circle cx="781.80" cy="1007.16" r="1.45" fill="#000"/>
<circle cx="784.75" cy="1006.15" r="1.45" fill="#000"/>
<circle cx="787.70" cy="1005.60" r="1.45" fill="#000"/>
<circle cx="790.65" cy="1005.48" r="1.45" fill="#000"/>
<circle cx="793.60" cy="1004.74" r="1.45" fill="#000"/>
<circle cx="796.55" cy="1004.01" r="1.45" fill="#000"/>
<circle cx="799.50" cy="1003.92" r="1.45" fill="#000"/>
<circle cx="802.45" cy="1003.89" r="1.45" fill="#000"/>
<circle cx="805.40" cy="1004.44" r="1.45" fill="#000"/>
<circle cx="808.35" cy="1004.31" r="1.45" fill="#000"/>
<circle cx="811.30" cy="1003.73" r="1.45" fill="#000"/>
<circle cx="814.25" cy="1006.80" r="1.45" fill="#000"/>
<circle cx="817.20" cy="1007.02" r="1.45" fill="#000"/>
<circle cx="820.15" cy="1006.85" r="1.45" fill="#000"/>
<circle cx="823.10" cy="1006.70" r="1.45" fill="#000"/>
<circle cx="826.05" cy="1006.95" r="1.45" fill="#000"/>
<circle cx="829.00" cy="1006.70" r="1.45" fill="#000"/>
<circle cx="831.95" cy="1006.70" r="1.45" fill="#000"/>
<circle cx="834.90" cy="1007.56" r="1.45" fill="#000"/>
<circle cx="837.85" cy="1007.40" r="1.45" fill="#000"/>
<circle cx="840.80" cy="1007.39" r="1.45" fill="#000"/>
<circle cx="843.75" cy="1007.81" r="1.45" fill="#000"/>
<circle cx="846.70" cy="1004.21" r="1.45" fill="#000"/>
<circle cx="849.65" cy="1004.74" r="1.45" fill="#000"/>
<circle cx="852.60" cy="1004.89" r="1.45" fill="#000"/>
<circle cx="855.55" cy="1004.58" r="1.45" fill="#000"/>
<circle cx="858.50" cy="1004.79" r="1.45" fill="#000"/>
<circle cx="861.45" cy="1005.00" r="1.45" fill="#000"/>
<circle cx="864.40" cy="1005.14" r="1.45" fill="#000"/>
<circle cx="867.35" cy="1005.60" r="1.45" fill="#000"/>
<circle cx="870.30" cy="1005.52" r="1.45" fill="#000"/>
<circle cx="873.25" cy="1005.82" r="1.45" fill="#000"/>
<circle cx="876.20" cy="1005.77" r="1.45" fill="#000"/>
<circle cx="879.15" cy="1006.58" r="1.45" fill="#000"/>
<circle cx="882.10" cy="1006.25" r="1.45" fill="#000"/>
<circle cx="885.05" cy="1006.42" r="1.45" fill="#000"/>
<circle cx="888.00" cy="1006.62" r="1.45" fill="#000"/>
<circle cx="890.95" cy="1006.97" r="1.45" fill="#000"/>
<circle cx="893.90" cy="1006.67" r="1.45" fill="#000"/>
<circle cx="896.85" cy="1007.13" r="1.45" fill="#000"/>
<circle cx="899.80" cy="1006.80" r="1.45" fill="#000"/>
<circle cx="902.75" cy="1006.83" r="1.45" fill="#000"/>
<circle cx="905.70" cy="1006.82" r="1.45" fill="#000"/>
<circle cx="908.65" cy="1006.41" r="1.45" fill="#000"/>
<circle cx="911.60" cy="1006.75" r="1.45" fill="#000"/>
<circle cx="914.55" cy="1006.45" r="1.45" fill="#000"/>
<circle cx="917.50" cy="1005.79" r="1.45" fill="#000"/>
<circle cx="920.45" cy="1005.91" r="1.45" fill="#000"/>
<circle cx="923.40" cy="1004.89" r="1.45" fill="#000"/>
<circle cx="926.35" cy="1004.62" r="1.45" fill="#000"/>
<circle cx="929.30" cy="1004.30" r="1.45" fill="#000"/>
<circle cx="932.25" cy="1006.66" r="1.45" fill="#000"/>
<circle cx="935.20" cy="1007.56" r="1.45" fill="#000"/>
<circle cx="938.15" cy="1007.97" r="1.45" fill="#000"/>
<circle cx="941.10" cy="1007.93" r="1.45" fill="#000"/>
<circle cx="944.05" cy="1008.05" r="1.45" fill="#000"/>
<circle cx="947.00" cy="1007.36" r="1.45" fill="#000"/>
<circle cx="949.95" cy="1007.55" r="1.45" fill="#000"/>
<circle cx="952.90" cy="1007.12" r="1.45" fill="#000"/>
<circle cx="955.85" cy="1006.97" r="1.45" fill="#000"/>
<circle cx="958.80" cy="1007.19" r="1.45" fill="#000"/>
<circle cx="961.75" cy="1006.80" r="1.45" fill="#000"/>
<circle cx="964.70" cy="1006.67" r="1.45" fill="#000"/>
<circle cx="967.65" cy="1006.65" r="1.45" fill="#000"/>
<circle cx="970.60" cy="1006.59" r="1.45" fill="#000"/>
<circle cx="973.55" cy="1006.04" r="1.45" fill="#000"/>
<circle cx="976.50" cy="1003.15" r="1.45" fill="#000"/>
<circle cx="979.45" cy="1003.44" r="1.45" fill="#000"/>
<circle cx="982.40" cy="1003.81" r="1.45" fill="#000"/>
<circle cx="985.35" cy="1004.32" r="1.45" fill="#000"/>
<circle cx="988.30" cy="1004.50" r="1.45" fill="#000"/>
<circle cx="991.25" cy="1004.93" r="1.45" fill="#000"/>
<circle cx="994.20" cy="1007.46" r="1.45" fill="#000"/>
<circle cx="997.15" cy="1007.79" r="1.45" fill="#000"/>
<circle cx="1000.10" cy="1007.55" r="1.45" fill="#000"/>
<circle cx="1003.05" cy="1007.64" r="1.45" fill="#000"/>
<circle cx="1006.00" cy="1007.65" r="1.45" fill="#000"/>
<circle cx="1008.95" cy="1007.06" r="1.45" fill="#000"/>
<circle cx="1011.90" cy="1007.25" r="1.45" fill="#000"/>
<circle cx="1014.85" cy="1007.51" r="1.45" fill="#000"/>
<circle cx="1017.80" cy="1007.38" r="1.45" fill="#000"/>
<circle cx="1020.75" cy="1006.78" r="1.45" fill="#000"/>
<circle cx="1023.70" cy="1006.72" r="1.45" fill="#000"/>
<circle cx="1026.65" cy="1007.07" r="1.45" fill="#000"/>
<circle cx="1029.60" cy="1006.99" r="1.45" fill="#000"/>
<circle cx="1032.55" cy="1006.03" r="1.45" fill="#000"/>
<circle cx="1035.50" cy="1004.93" r="1.45" fill="#000"/>
<circle cx="1038.45" cy="1005.50" r="1.45" fill="#000"/>
<circle cx="1041.40" cy="1005.68" r="1.45" fill="#000"/>
<circle cx="1044.35" cy="1005.85" r="1.45" fill="#000"/>
<circle cx="1047.30" cy="1005.35" r="1.45" fill="#000"/>
<circle cx="1050.25" cy="1005.88" r="1.45" fill="#000"/>
<circle cx="1053.20" cy="1005.93" r="1.45" fill="#000"/>
<circle cx="1056.15" cy="1005.60" r="1.45" fill="#000"/>
<circle cx="1059.10" cy="1006.28" r="1.45" fill="#000"/>
<circle cx="1062.05" cy="1006.37" r="1.45" fill="#000"/>
<circle cx="1065.00" cy="1005.78" r="1.45" fill="#000"/>
<circle cx="1067.95" cy="1006.36" r="1.45" fill="#000"/>
<circle cx="1070.90" cy="1005.92" r="1.45" fill="#000"/>
<circle cx="1073.85" cy="1005.99" r="1.45" fill="#000"/>
<circle cx="1076.80" cy="1006.39" r="1.45" fill="#000"/>
<circle cx="1079.75" cy="1006.27" r="1.45" fill="#000"/>
<circle cx="1082.70" cy="1005.73" r="1.45" fill="#000"/>
<circle cx="1085.65" cy="1005.66" r="1.45" fill="#000"/>
<circle cx="1088.60" cy="1004.43" r="1.45" fill="#000"/>
<circle cx="1091.55" cy="1004.81" r="1.45" fill="#000"/>
<circle cx="1094.50" cy="1005.76" r="1.45" fill="#000"/>
<circle cx="1097.45" cy="1005.85" r="1.45" fill="#000"/>
<circle cx="1100.40" cy="1006.18" r="1.45" fill="#000"/>
<circle cx="1103.35" cy="1005.62" r="1.45" fill="#000"/>
<circle cx="1106.30" cy="1006.04" r="1.45" fill="#000"/>
<circle cx="1109.25" cy="1005.95" r="1.45" fill="#000"/>
<circle cx="1112.20" cy="1005.61" r="1.45" fill="#000"/>
<circle cx="1115.15" cy="1005.99" r="1.45" fill="#000"/>
<circle cx="1118.10" cy="1008.58" r="1.45" fill="#000"/>
<circle cx="1121.05" cy="1008.00" r="1.45" fill="#000"/>
<circle cx="1124.00" cy="1007.36" r="1.45" fill="#000"/>
<circle cx="1126.95" cy="1007.80" r="1.45" fill="#000"/>
<circle cx="1129.90" cy="1007.36" r="1.45" fill="#000"/>
<circle cx="1132.85" cy="1007.21" r="1.45" fill="#000"/>
<circle cx="1135.80" cy="1006.23" r="1.45" fill="#000"/>
<circle cx="1138.75" cy="1006.07" r="1.45" fill="#000"/>
<circle cx="1141.70" cy="1005.60" r="1.45" fill="#000"/>
<circle cx="1144.65" cy="1005.90" r="1.45" fill="#000"/>
<circle cx="1147.60" cy="1005.21" r="1.45" fill="#000"/>
<circle cx="1150.55" cy="1004.80" r="1.45" fill="#000"/>
<circle cx="1153.50" cy="1004.75" r="1.45" fill="#000"/>
<circle cx="1156.45" cy="1004.85" r="1.45" fill="#000"/>
<circle cx="1159.40" cy="1004.49" r="1.45" fill="#000"/>
<circle cx="1162.35" cy="1003.75" r="1.45" fill="#000"/>
<circle cx="1165.30" cy="1003.37" r="1.45" fill="#000"/>
<circle cx="1168.25" cy="1003.70" r="1.45" fill="#000"/>
<circle cx="1171.20" cy="1003.13" r="1.45" fill="#000"/>
<circle cx="1174.15" cy="1003.67" r="1.45" fill="#000"/>
<circle cx="1177.10" cy="1005.71" r="1.45" fill="#000"/>
<circle cx="1180.05" cy="1005.78" r="1.45" fill="#000"/>
<circle cx="1183.00" cy="1007.35" r="1.45" fill="#000"/>
<circle cx="1185.95" cy="1007.14" r="1.45" fill="#000"/>
<circle cx="1188.90" cy="1006.86" r="1.45" fill="#000"/>
<circle cx="1191.85" cy="1007.55" r="1.45" fill="#000"/>
<circle cx="1194.80" cy="1007.31" r="1.45" fill="#000"/>
<circle cx="1197.75" cy="1007.44" r="1.45" fill="#000"/>
<circle cx="1200.70" cy="1006.87" r="1.45" fill="#000"/>
<circle cx="1203.65" cy="1007.48" r="1.45" fill="#000"/>
<circle cx="1206.60" cy="1006.85" r="1.45" fill="#000"/>
<circle cx="1209.55" cy="1007.49" r="1.45" fill="#000"/>
<circle cx="1212.50" cy="1007.16" r="1.45" fill="#000"/>
<circle cx="1215.45" cy="1007.02" r="1.45" fill="#000"/>
<circle cx="1218.40" cy="1007.14" r="1.45" fill="#000"/>
<circle cx="1221.35" cy="1007.40" r="1.45" fill="#000"/>
<circle cx="1224.30" cy="1006.83" r="1.45" fill="#000"/>
<circle cx="1227.25" cy="1006.67" r="1.45" fill="#000"/>
<circle cx="1230.20" cy="1006.94" r="1.45" fill="#000"/>
<circle cx="1233.15" cy="1006.67" r="1.45" fill="#000"/>
<circle cx="1236.10" cy="1006.52" r="1.45" fill="#000"/>
<circle cx="1239.05" cy="1002.54" r="1.45" fill="#000"/>
<circle cx="1242.00" cy="1002.90" r="1.45" fill="#000"/>
<circle cx="1244.95" cy="1003.46" r="1.45" fill="#000"/>
<circle cx="1247.90" cy="1004.00" r="1.45" fill="#000"/>
<circle cx="1250.85" cy="1004.44" r="1.45" fill="#000"/>
<circle cx="1253.80" cy="1005.25" r="1.45" fill="#000"/>
<circle cx="1256.75" cy="1005.32" r="1.45" fill="#000"/>
<circle cx="1259.70" cy="1005.94" r="1.45" fill="#000"/>
<circle cx="1262.65" cy="1006.13" r="1.45" fill="#000"/>
<circle cx="1265.60" cy="1006.71" r="1.45" fill="#000"/>
<circle cx="1268.55" cy="1006.89" r="1.45" fill="#000"/>
<circle cx="1271.50" cy="1007.34" r="1.45" fill="#000"/>
<circle cx="1274.45" cy="1007.24" r="1.45" fill="#000"/>
<circle cx="1277.40" cy="1007.89" r="1.45" fill="#000"/>
<circle cx="1280.35" cy="1007.83" r="1.45" fill="#000"/>
<circle cx="1283.30" cy="1007.62" r="1.45" fill="#000"/>
<circle cx="1286.25" cy="1007.93" r="1.45" fill="#000"/>
<circle cx="1289.20" cy="1008.27" r="1.45" fill="#000"/>
<circle cx="1292.15" cy="1007.42" r="1.45" fill="#000"/>
<circle cx="1295.10" cy="1007.80" r="1.45" fill="#000"/>
<circle cx="1298.05" cy="1007.30" r="1.45" fill="#000"/>
<circle cx="1301.00" cy="1007.16" r="1.45" fill="#000"/>
<circle cx="191.50" cy="1002.20" r="1.5" fill="#000"/>
<path d="M284.30,959.80 L288.70,959.80 L286.60,955.50 Z" fill="#ff0000"/>
<path d="M618.70,959.80 L623.10,959.80 L621.00,955.50 Z" fill="#ff0000"/>
</g>
<line x1="162.00" y1="1011.50" x2="162.00" y2="954.50" stroke="#800080" stroke-width="2.08" stroke-dasharray="2.08 3.44"/>
<line x1="1303.00" y1="1011.50" x2="1303.00" y2="954.50" stroke="#800080" stroke-width="2.08" stroke-dasharray="2.08 3.44"/>
<line x1="104.95" y1="954.50" x2="1486.05" y2="954.50" stroke="#000" stroke-width="1.11"/>
<line x1="104.95" y1="1011.50" x2="1486.05" y2="1011.50" stroke="#000" stroke-width="1.11"/>
<line x1="105.50" y1="953.95" x2="105.50" y2="1012.05" stroke="#000" stroke-width="1.11"/>
<line x1="1485.50" y1="953.95" x2="1485.50" y2="1012.05" stroke="#000" stroke-width="1.11"/>
<line x1="162.30" y1="1011.50" x2="162.30" y2="1016.36" stroke="#000" stroke-width="1.11"/>
<text x="159.53" y="1031.90" font-size="13.889" textLength="7.94" lengthAdjust="spacingAndGlyphs">0</text>
<line x1="460.08" y1="1011.50" x2="460.08" y2="1016.36" stroke="#000" stroke-width="1.11"/>
<text x="446.81" y="1031.90" font-size="13.889" textLength="26.53" lengthAdjust="spacingAndGlyphs">200</text>
<line x1="757.86" y1="1011.50" x2="757.86" y2="1016.36" stroke="#000" stroke-width="1.11"/>
<text x="744.59" y="1031.90" font-size="13.889" textLength="26.53" lengthAdjust="spacingAndGlyphs">400</text>
<line x1="1055.64" y1="1011.50" x2="1055.64" y2="1016.36" stroke="#000" stroke-width="1.11"/>
<text x="1042.37" y="1031.90" font-size="13.889" textLength="26.53" lengthAdjust="spacingAndGlyphs">600</text>
<line x1="1353.42" y1="1011.50" x2="1353.42" y2="1016.36" stroke="#000" stroke-width="1.11"/>
<text x="1340.15" y="1031.90" font-size="13.889" textLength="26.53" lengthAdjust="spacingAndGlyphs">800</text>
<text transform="translate(68.6,983.7) rotate(-90)" text-anchor="middle" font-size="13.889" textLength="14.54" lengthAdjust="spacingAndGlyphs">dr</text>
</svg>
</body></html>
